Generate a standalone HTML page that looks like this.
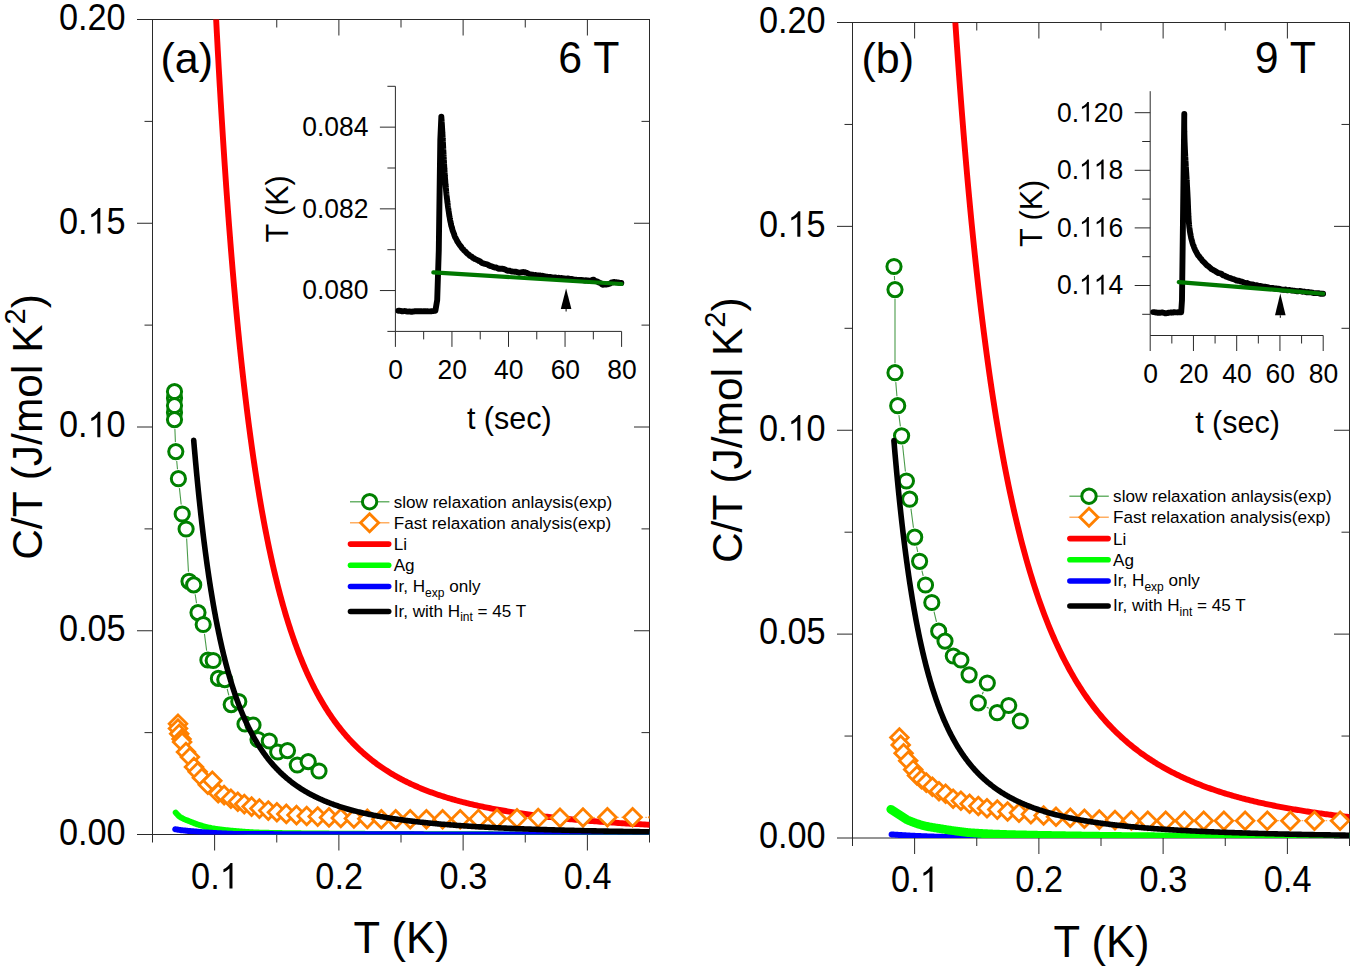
<!DOCTYPE html><html><head><meta charset="utf-8"><title>Nuclear Schottky C/T</title><style>html,body{margin:0;padding:0;background:#fff;overflow:hidden}svg{display:block}text{font-family:"Liberation Sans",sans-serif;fill:#000}</style></head><body>
<svg width="1350" height="970" viewBox="0 0 1350 970">
<rect width="1350" height="970" fill="#fff"/>
<defs>
<clipPath id="ca"><rect x="152.5" y="19.5" width="497.0" height="815.0"/></clipPath>
<clipPath id="cb"><rect x="852.5" y="22.5" width="497.0" height="815.5"/></clipPath>
</defs>
<rect x="152.5" y="19.5" width="497.0" height="815.0" fill="none" stroke="#2a2a2a" stroke-width="1"/>
<line x1="152.5" y1="834.5" x2="152.5" y2="842.5" stroke="#2a2a2a" stroke-width="1"/>
<line x1="152.5" y1="19.5" x2="152.5" y2="27.5" stroke="#2a2a2a" stroke-width="1"/>
<line x1="214.62" y1="834.5" x2="214.62" y2="850.5" stroke="#2a2a2a" stroke-width="1"/>
<line x1="214.62" y1="19.5" x2="214.62" y2="35.5" stroke="#2a2a2a" stroke-width="1"/>
<line x1="276.75" y1="834.5" x2="276.75" y2="842.5" stroke="#2a2a2a" stroke-width="1"/>
<line x1="276.75" y1="19.5" x2="276.75" y2="27.5" stroke="#2a2a2a" stroke-width="1"/>
<line x1="338.88" y1="834.5" x2="338.88" y2="850.5" stroke="#2a2a2a" stroke-width="1"/>
<line x1="338.88" y1="19.5" x2="338.88" y2="35.5" stroke="#2a2a2a" stroke-width="1"/>
<line x1="401" y1="834.5" x2="401" y2="842.5" stroke="#2a2a2a" stroke-width="1"/>
<line x1="401" y1="19.5" x2="401" y2="27.5" stroke="#2a2a2a" stroke-width="1"/>
<line x1="463.12" y1="834.5" x2="463.12" y2="850.5" stroke="#2a2a2a" stroke-width="1"/>
<line x1="463.12" y1="19.5" x2="463.12" y2="35.5" stroke="#2a2a2a" stroke-width="1"/>
<line x1="525.25" y1="834.5" x2="525.25" y2="842.5" stroke="#2a2a2a" stroke-width="1"/>
<line x1="525.25" y1="19.5" x2="525.25" y2="27.5" stroke="#2a2a2a" stroke-width="1"/>
<line x1="587.38" y1="834.5" x2="587.38" y2="850.5" stroke="#2a2a2a" stroke-width="1"/>
<line x1="587.38" y1="19.5" x2="587.38" y2="35.5" stroke="#2a2a2a" stroke-width="1"/>
<line x1="649.5" y1="834.5" x2="649.5" y2="842.5" stroke="#2a2a2a" stroke-width="1"/>
<line x1="649.5" y1="19.5" x2="649.5" y2="27.5" stroke="#2a2a2a" stroke-width="1"/>
<line x1="137" y1="834.5" x2="152.5" y2="834.5" stroke="#2a2a2a" stroke-width="1"/>
<line x1="634" y1="834.5" x2="649.5" y2="834.5" stroke="#2a2a2a" stroke-width="1"/>
<line x1="144.5" y1="732.62" x2="152.5" y2="732.62" stroke="#2a2a2a" stroke-width="1"/>
<line x1="641.5" y1="732.62" x2="649.5" y2="732.62" stroke="#2a2a2a" stroke-width="1"/>
<line x1="137" y1="630.75" x2="152.5" y2="630.75" stroke="#2a2a2a" stroke-width="1"/>
<line x1="634" y1="630.75" x2="649.5" y2="630.75" stroke="#2a2a2a" stroke-width="1"/>
<line x1="144.5" y1="528.88" x2="152.5" y2="528.88" stroke="#2a2a2a" stroke-width="1"/>
<line x1="641.5" y1="528.88" x2="649.5" y2="528.88" stroke="#2a2a2a" stroke-width="1"/>
<line x1="137" y1="427" x2="152.5" y2="427" stroke="#2a2a2a" stroke-width="1"/>
<line x1="634" y1="427" x2="649.5" y2="427" stroke="#2a2a2a" stroke-width="1"/>
<line x1="144.5" y1="325.12" x2="152.5" y2="325.12" stroke="#2a2a2a" stroke-width="1"/>
<line x1="641.5" y1="325.12" x2="649.5" y2="325.12" stroke="#2a2a2a" stroke-width="1"/>
<line x1="137" y1="223.25" x2="152.5" y2="223.25" stroke="#2a2a2a" stroke-width="1"/>
<line x1="634" y1="223.25" x2="649.5" y2="223.25" stroke="#2a2a2a" stroke-width="1"/>
<line x1="144.5" y1="121.38" x2="152.5" y2="121.38" stroke="#2a2a2a" stroke-width="1"/>
<line x1="641.5" y1="121.38" x2="649.5" y2="121.38" stroke="#2a2a2a" stroke-width="1"/>
<line x1="137" y1="19.5" x2="152.5" y2="19.5" stroke="#2a2a2a" stroke-width="1"/>
<line x1="634" y1="19.5" x2="649.5" y2="19.5" stroke="#2a2a2a" stroke-width="1"/>
<text transform="translate(125.7,844.8) scale(0.98,1.045)" font-size="35" text-anchor="end">0.00</text>
<text transform="translate(125.7,641.05) scale(0.98,1.045)" font-size="35" text-anchor="end">0.05</text>
<g transform="translate(125.7,437.3) scale(0.98,1.045)">
<text x="-68.12" y="0" font-size="35" xml:space="preserve">0. 0</text>
<path d="M763,0L583,0L583,1147C540,1106 483,1065 413,1024C342,983 279,952 223,931L223,1105C324,1152 412,1210 487,1277C562,1344 615,1407 646,1466L763,1466Z" transform="translate(-38.93,0) scale(0.01709,-0.01666)"/>
</g>
<g transform="translate(125.7,233.55) scale(0.98,1.045)">
<text x="-68.12" y="0" font-size="35" xml:space="preserve">0. 5</text>
<path d="M763,0L583,0L583,1147C540,1106 483,1065 413,1024C342,983 279,952 223,931L223,1105C324,1152 412,1210 487,1277C562,1344 615,1407 646,1466L763,1466Z" transform="translate(-38.93,0) scale(0.01709,-0.01666)"/>
</g>
<text transform="translate(125.7,29.8) scale(0.98,1.045)" font-size="35" text-anchor="end">0.20</text>
<g transform="translate(214.93,888.5) scale(0.98,1.045)">
<text x="-24.33" y="0" font-size="35" xml:space="preserve">0. </text>
<path d="M763,0L583,0L583,1147C540,1106 483,1065 413,1024C342,983 279,952 223,931L223,1105C324,1152 412,1210 487,1277C562,1344 615,1407 646,1466L763,1466Z" transform="translate(4.86,0) scale(0.01709,-0.01666)"/>
</g>
<text transform="translate(339.18,888.5) scale(0.98,1.045)" font-size="35" text-anchor="middle">0.2</text>
<text transform="translate(463.43,888.5) scale(0.98,1.045)" font-size="35" text-anchor="middle">0.3</text>
<text transform="translate(587.67,888.5) scale(0.98,1.045)" font-size="35" text-anchor="middle">0.4</text>
<text x="401.5" y="953.2" font-size="43.5" text-anchor="middle">T (K)</text>
<text transform="translate(41.5,427) rotate(-90)" font-size="42.5" text-anchor="middle">C/T (J/mol K<tspan font-size="29" dy="-16.5">2</tspan><tspan dy="16.5">)</tspan></text>
<rect x="852.5" y="22.5" width="497.0" height="815.5" fill="none" stroke="#2a2a2a" stroke-width="1"/>
<line x1="852.5" y1="838" x2="852.5" y2="846" stroke="#2a2a2a" stroke-width="1"/>
<line x1="852.5" y1="22.5" x2="852.5" y2="30.5" stroke="#2a2a2a" stroke-width="1"/>
<line x1="914.62" y1="838" x2="914.62" y2="854" stroke="#2a2a2a" stroke-width="1"/>
<line x1="914.62" y1="22.5" x2="914.62" y2="38.5" stroke="#2a2a2a" stroke-width="1"/>
<line x1="976.75" y1="838" x2="976.75" y2="846" stroke="#2a2a2a" stroke-width="1"/>
<line x1="976.75" y1="22.5" x2="976.75" y2="30.5" stroke="#2a2a2a" stroke-width="1"/>
<line x1="1038.88" y1="838" x2="1038.88" y2="854" stroke="#2a2a2a" stroke-width="1"/>
<line x1="1038.88" y1="22.5" x2="1038.88" y2="38.5" stroke="#2a2a2a" stroke-width="1"/>
<line x1="1101" y1="838" x2="1101" y2="846" stroke="#2a2a2a" stroke-width="1"/>
<line x1="1101" y1="22.5" x2="1101" y2="30.5" stroke="#2a2a2a" stroke-width="1"/>
<line x1="1163.12" y1="838" x2="1163.12" y2="854" stroke="#2a2a2a" stroke-width="1"/>
<line x1="1163.12" y1="22.5" x2="1163.12" y2="38.5" stroke="#2a2a2a" stroke-width="1"/>
<line x1="1225.25" y1="838" x2="1225.25" y2="846" stroke="#2a2a2a" stroke-width="1"/>
<line x1="1225.25" y1="22.5" x2="1225.25" y2="30.5" stroke="#2a2a2a" stroke-width="1"/>
<line x1="1287.38" y1="838" x2="1287.38" y2="854" stroke="#2a2a2a" stroke-width="1"/>
<line x1="1287.38" y1="22.5" x2="1287.38" y2="38.5" stroke="#2a2a2a" stroke-width="1"/>
<line x1="1349.5" y1="838" x2="1349.5" y2="846" stroke="#2a2a2a" stroke-width="1"/>
<line x1="1349.5" y1="22.5" x2="1349.5" y2="30.5" stroke="#2a2a2a" stroke-width="1"/>
<line x1="837" y1="838" x2="852.5" y2="838" stroke="#2a2a2a" stroke-width="1"/>
<line x1="1334" y1="838" x2="1349.5" y2="838" stroke="#2a2a2a" stroke-width="1"/>
<line x1="844.5" y1="736.06" x2="852.5" y2="736.06" stroke="#2a2a2a" stroke-width="1"/>
<line x1="1341.5" y1="736.06" x2="1349.5" y2="736.06" stroke="#2a2a2a" stroke-width="1"/>
<line x1="837" y1="634.12" x2="852.5" y2="634.12" stroke="#2a2a2a" stroke-width="1"/>
<line x1="1334" y1="634.12" x2="1349.5" y2="634.12" stroke="#2a2a2a" stroke-width="1"/>
<line x1="844.5" y1="532.19" x2="852.5" y2="532.19" stroke="#2a2a2a" stroke-width="1"/>
<line x1="1341.5" y1="532.19" x2="1349.5" y2="532.19" stroke="#2a2a2a" stroke-width="1"/>
<line x1="837" y1="430.25" x2="852.5" y2="430.25" stroke="#2a2a2a" stroke-width="1"/>
<line x1="1334" y1="430.25" x2="1349.5" y2="430.25" stroke="#2a2a2a" stroke-width="1"/>
<line x1="844.5" y1="328.31" x2="852.5" y2="328.31" stroke="#2a2a2a" stroke-width="1"/>
<line x1="1341.5" y1="328.31" x2="1349.5" y2="328.31" stroke="#2a2a2a" stroke-width="1"/>
<line x1="837" y1="226.37" x2="852.5" y2="226.37" stroke="#2a2a2a" stroke-width="1"/>
<line x1="1334" y1="226.37" x2="1349.5" y2="226.37" stroke="#2a2a2a" stroke-width="1"/>
<line x1="844.5" y1="124.44" x2="852.5" y2="124.44" stroke="#2a2a2a" stroke-width="1"/>
<line x1="1341.5" y1="124.44" x2="1349.5" y2="124.44" stroke="#2a2a2a" stroke-width="1"/>
<line x1="837" y1="22.5" x2="852.5" y2="22.5" stroke="#2a2a2a" stroke-width="1"/>
<line x1="1334" y1="22.5" x2="1349.5" y2="22.5" stroke="#2a2a2a" stroke-width="1"/>
<text transform="translate(825.7,848.3) scale(0.98,1.045)" font-size="35" text-anchor="end">0.00</text>
<text transform="translate(825.7,644.42) scale(0.98,1.045)" font-size="35" text-anchor="end">0.05</text>
<g transform="translate(825.7,440.55) scale(0.98,1.045)">
<text x="-68.12" y="0" font-size="35" xml:space="preserve">0. 0</text>
<path d="M763,0L583,0L583,1147C540,1106 483,1065 413,1024C342,983 279,952 223,931L223,1105C324,1152 412,1210 487,1277C562,1344 615,1407 646,1466L763,1466Z" transform="translate(-38.93,0) scale(0.01709,-0.01666)"/>
</g>
<g transform="translate(825.7,236.67) scale(0.98,1.045)">
<text x="-68.12" y="0" font-size="35" xml:space="preserve">0. 5</text>
<path d="M763,0L583,0L583,1147C540,1106 483,1065 413,1024C342,983 279,952 223,931L223,1105C324,1152 412,1210 487,1277C562,1344 615,1407 646,1466L763,1466Z" transform="translate(-38.93,0) scale(0.01709,-0.01666)"/>
</g>
<text transform="translate(825.7,32.8) scale(0.98,1.045)" font-size="35" text-anchor="end">0.20</text>
<g transform="translate(914.92,892) scale(0.98,1.045)">
<text x="-24.33" y="0" font-size="35" xml:space="preserve">0. </text>
<path d="M763,0L583,0L583,1147C540,1106 483,1065 413,1024C342,983 279,952 223,931L223,1105C324,1152 412,1210 487,1277C562,1344 615,1407 646,1466L763,1466Z" transform="translate(4.86,0) scale(0.01709,-0.01666)"/>
</g>
<text transform="translate(1039.17,892) scale(0.98,1.045)" font-size="35" text-anchor="middle">0.2</text>
<text transform="translate(1163.42,892) scale(0.98,1.045)" font-size="35" text-anchor="middle">0.3</text>
<text transform="translate(1287.67,892) scale(0.98,1.045)" font-size="35" text-anchor="middle">0.4</text>
<text x="1101.5" y="956.7" font-size="43.5" text-anchor="middle">T (K)</text>
<text transform="translate(741.5,430.25) rotate(-90)" font-size="42.5" text-anchor="middle">C/T (J/mol K<tspan font-size="29" dy="-16.5">2</tspan><tspan dy="16.5">)</tspan></text>
<g clip-path="url(#ca)">
<polyline points="215.9,14.79 216.38,24.01 216.86,33.13 217.34,42.15 217.82,51.06 218.31,59.88 218.79,68.59 219.28,77.21 219.77,85.73 220.27,94.15 220.76,102.48 221.26,110.71 221.76,118.85 222.26,126.9 222.76,134.86 223.26,142.73 223.77,150.51 224.27,158.21 224.78,165.81 225.3,173.34 225.81,180.77 226.32,188.12 226.84,195.39 227.36,202.58 227.88,209.69 228.41,216.71 228.93,223.66 229.46,230.53 229.99,237.32 230.52,244.04 231.05,250.68 231.59,257.24 232.13,263.73 232.67,270.15 233.21,276.5 233.75,282.77 234.3,288.98 234.85,295.11 235.39,301.17 235.95,307.17 236.5,313.1 237.06,318.96 237.62,324.76 238.18,330.49 238.74,336.15 239.3,341.75 239.87,347.29 240.44,352.77 241.01,358.19 241.58,363.54 242.16,368.83 242.74,374.07 243.32,379.24 243.9,384.36 244.48,389.42 245.07,394.42 245.66,399.37 246.25,404.26 246.84,409.09 247.44,413.88 248.04,418.6 248.64,423.28 249.24,427.9 249.84,432.47 250.45,436.98 251.06,441.45 251.67,445.87 252.29,450.24 252.9,454.55 253.52,458.82 254.14,463.04 254.77,467.22 255.39,471.34 256.02,475.42 256.65,479.46 257.28,483.45 257.92,487.39 258.56,491.29 259.2,495.15 259.84,498.96 260.48,502.73 261.13,506.46 261.78,510.14 262.43,513.79 263.09,517.39 263.75,520.95 264.41,524.47 265.07,527.95 265.73,531.4 266.4,534.8 267.07,538.17 267.74,541.5 268.42,544.79 269.1,548.04 269.78,551.26 270.46,554.44 271.14,557.58 271.83,560.69 272.52,563.77 273.22,566.81 273.91,569.82 274.61,572.79 275.31,575.73 276.02,578.63 276.72,581.51 277.43,584.35 278.14,587.16 278.86,589.93 279.58,592.68 280.3,595.39 281.02,598.08 281.74,600.73 282.47,603.36 283.2,605.95 283.94,608.52 284.67,611.05 285.41,613.56 286.16,616.04 286.9,618.5 287.65,620.92 288.4,623.32 289.15,625.69 289.91,628.03 290.67,630.35 291.43,632.64 292.2,634.91 292.97,637.15 293.74,639.36 294.51,641.55 295.29,643.72 296.07,645.86 296.85,647.98 297.64,650.07 298.43,652.14 299.22,654.19 300.01,656.21 300.81,658.21 301.61,660.19 302.42,662.14 303.22,664.08 304.03,665.99 304.85,667.88 305.66,669.75 306.48,671.6 307.31,673.43 308.13,675.23 308.96,677.02 309.79,678.79 310.63,680.54 311.47,682.26 312.31,683.97 313.15,685.66 314,687.33 314.85,688.98 315.71,690.61 316.56,692.23 317.42,693.82 318.29,695.4 319.16,696.96 320.03,698.5 320.9,700.03 321.78,701.54 322.66,703.03 323.54,704.5 324.43,705.96 325.32,707.4 326.22,708.83 327.11,710.24 328.01,711.63 328.92,713.01 329.83,714.37 330.74,715.72 331.65,717.05 332.57,718.37 333.49,719.67 334.42,720.96 335.35,722.23 336.28,723.49 337.22,724.73 338.16,725.97 339.1,727.18 340.05,728.39 341,729.58 341.95,730.75 342.91,731.92 343.87,733.07 344.83,734.2 345.8,735.33 346.77,736.44 347.75,737.54 348.73,738.62 349.71,739.7 350.7,740.76 351.69,741.81 352.69,742.85 353.69,743.88 354.69,744.89 355.69,745.9 356.7,746.89 357.72,747.87 358.73,748.85 359.76,749.81 360.78,750.75 361.81,751.69 362.84,752.62 363.88,753.54 364.92,754.45 365.97,755.34 367.02,756.23 368.07,757.11 369.13,757.97 370.19,758.83 371.25,759.68 372.32,760.52 373.39,761.35 374.47,762.17 375.55,762.98 376.64,763.78 377.73,764.57 378.82,765.35 379.92,766.13 381.02,766.9 382.13,767.65 383.24,768.4 384.35,769.14 385.47,769.87 386.6,770.6 387.72,771.31 388.86,772.02 389.99,772.72 391.13,773.41 392.28,774.1 393.43,774.77 394.58,775.44 395.74,776.1 396.9,776.76 398.07,777.41 399.24,778.04 400.41,778.68 401.59,779.3 402.78,779.92 403.97,780.53 405.16,781.14 406.36,781.73 407.56,782.32 408.77,782.91 409.98,783.49 411.2,784.06 412.42,784.62 413.64,785.18 414.87,785.73 416.11,786.28 417.35,786.82 418.59,787.35 419.84,787.88 421.1,788.4 422.36,788.92 423.62,789.43 424.89,789.93 426.16,790.43 427.44,790.93 428.72,791.41 430.01,791.9 431.3,792.37 432.6,792.84 433.9,793.31 435.21,793.77 436.52,794.23 437.84,794.68 439.16,795.12 440.49,795.57 441.82,796 443.16,796.43 444.5,796.86 445.85,797.28 447.21,797.7 448.56,798.11 449.93,798.52 451.3,798.92 452.67,799.32 454.05,799.71 455.43,800.1 456.82,800.48 458.22,800.86 459.62,801.24 461.02,801.61 462.43,801.98 463.85,802.34 465.27,802.7 466.7,803.06 468.13,803.41 469.57,803.76 471.01,804.1 472.46,804.44 473.92,804.78 475.38,805.11 476.84,805.44 478.31,805.77 479.79,806.09 481.27,806.41 482.76,806.72 484.25,807.03 485.75,807.34 487.26,807.64 488.77,807.94 490.28,808.24 491.81,808.53 493.33,808.82 494.87,809.11 496.41,809.39 497.95,809.68 499.5,809.95 501.06,810.23 502.62,810.5 504.19,810.77 505.77,811.03 507.35,811.3 508.94,811.55 510.53,811.81 512.13,812.07 513.73,812.32 515.35,812.56 516.96,812.81 518.59,813.05 520.22,813.29 521.85,813.53 523.5,813.76 525.14,814 526.8,814.22 528.46,814.45 530.13,814.68 531.8,814.9 533.48,815.12 535.17,815.33 536.86,815.55 538.56,815.76 540.27,815.97 541.98,816.18 543.7,816.38 545.42,816.58 547.16,816.78 548.89,816.98 550.64,817.18 552.39,817.37 554.15,817.56 555.92,817.75 557.69,817.94 559.47,818.12 561.25,818.31 563.04,818.49 564.84,818.67 566.65,818.84 568.46,819.02 570.28,819.19 572.11,819.36 573.94,819.53 575.78,819.7 577.63,819.86 579.49,820.03 581.35,820.19 583.22,820.35 585.09,820.51 586.97,820.66 588.87,820.82 590.76,820.97 592.67,821.12 594.58,821.27 596.5,821.42 598.42,821.57 600.36,821.71 602.3,821.85 604.25,821.99 606.2,822.13 608.17,822.27 610.14,822.41 612.12,822.54 614.1,822.68 616.1,822.81 618.1,822.94 620.11,823.07 622.12,823.2 624.15,823.32 626.18,823.45 628.22,823.57 630.26,823.69 632.32,823.81 634.38,823.93 636.45,824.05 638.53,824.17 640.62,824.28 642.71,824.4 644.82,824.51 646.93,824.62 649.04,824.73 651.17,824.84 653.31,824.95 655.45,825.06 657.6,825.16 659.76,825.27 661.92,825.37" fill="none" stroke="#ff0000" stroke-width="5.9" stroke-linecap="round" stroke-linejoin="round" />
<polyline points="175.7,812.6 176.7,813.76 177.7,814.86 178.7,815.86 179.7,816.69 180.7,817.35 181.7,817.93 182.7,818.46 183.7,818.94 184.7,819.39 185.7,819.81 186.7,820.2 187.7,820.59 188.7,820.98 189.7,821.38 190.7,821.79 191.7,822.19 192.7,822.59 193.7,822.99 194.7,823.37 195.7,823.75 196.7,824.11 197.7,824.46 198.7,824.79 199.7,825.11 200.7,825.41 201.7,825.7 202.7,825.99 203.7,826.27 204.7,826.54 205.7,826.8 206.7,827.06 207.7,827.3 208.7,827.53 209.7,827.75 210.7,827.95 211.7,828.15 212.7,828.32 213.7,828.49 214.7,828.65 215.7,828.81 216.7,828.96 217.7,829.1 218.7,829.24 219.7,829.37 220.7,829.49 221.7,829.62 222.7,829.74 223.7,829.85 224.7,829.97 225.7,830.08 226.7,830.19 227.7,830.29 228.7,830.4 229.7,830.5 230.7,830.6 231.7,830.7 232.7,830.79 233.7,830.88 234.7,830.97 235.7,831.06 236.7,831.14 237.7,831.22 238.7,831.3 239.7,831.38 240.7,831.45 241.7,831.53 242.7,831.6 243.7,831.67 244.7,831.75 245.7,831.82 246.7,831.89 247.7,831.96 248.7,832.03 249.7,832.1 250.7,832.16 251.7,832.22 252.7,832.28 253.7,832.34 254.7,832.39 255.7,832.44 256.7,832.48 257.7,832.53 258.7,832.56 259.7,832.59 260.7,832.62 261.7,832.64 262.7,832.67 263.7,832.69 264.7,832.72 265.7,832.74 266.7,832.77 267.7,832.79 268.7,832.81 269.7,832.83 270.7,832.86 271.7,832.88 272.7,832.9 273.7,832.92 274.7,832.94 275.7,832.96 276.7,832.97 277.7,832.99 278.7,833.01 279.7,833.03 280.7,833.04 281.7,833.06 282.7,833.08 283.7,833.09 284.7,833.11 285.7,833.12 286.7,833.14 287.7,833.15 288.7,833.17 289.7,833.18 290.7,833.2 291.7,833.21 292.7,833.22 293.7,833.24 294.7,833.25 295.7,833.26 296.7,833.27 297.7,833.28 298.7,833.3 299.7,833.31 300.7,833.32 301.7,833.33 302.7,833.34 303.7,833.35 304.7,833.36 305.7,833.37 306.7,833.38 307.7,833.39 308.7,833.4 309.7,833.41 310.7,833.42 311.7,833.43 312.7,833.44 313.7,833.45 314.7,833.45 315.7,833.46 316.7,833.47 317.7,833.48 318.7,833.49 319.7,833.5 320.7,833.51 321.7,833.51 322.7,833.52 323.7,833.53 324.7,833.54 325.7,833.55 326.7,833.56 327.7,833.56 328.7,833.57 329.7,833.58 330.7,833.59 331.7,833.59 332.7,833.6 333.7,833.61 334.7,833.62 335.7,833.63 336.7,833.63 337.7,833.64 338.7,833.65 339.7,833.66 340.7,833.66 341.7,833.67 342.7,833.68 343.7,833.68 344.7,833.69 345.7,833.7 346.7,833.71 347.7,833.71 348.7,833.72 349.7,833.73 350.7,833.73 351.7,833.74 352.7,833.75 353.7,833.75 354.7,833.76 355.7,833.77 356.7,833.77 357.7,833.78 358.7,833.79 359.7,833.79 360.7,833.8 361.7,833.8 362.7,833.81 363.7,833.82 364.7,833.82 365.7,833.83 366.7,833.84 367.7,833.84 368.7,833.85 369.7,833.85 370.7,833.86 371.7,833.87 372.7,833.87 373.7,833.88 374.7,833.88 375.7,833.89 376.7,833.89 377.7,833.9 378.7,833.9 379.7,833.91 380.7,833.92 381.7,833.92 382.7,833.93 383.7,833.93 384.7,833.94 385.7,833.94 386.7,833.95 387.7,833.95 388.7,833.96 389.7,833.96 390.7,833.97 391.7,833.97 392.7,833.98 393.7,833.98 394.7,833.99 395.7,833.99 396.7,834 397.7,834 398.7,834.01 399.7,834.01 400.7,834.02 401.7,834.02 402.7,834.02 403.7,834.03 404.7,834.03 405.7,834.04 406.7,834.04 407.7,834.05 408.7,834.05 409.7,834.06 410.7,834.06 411.7,834.06 412.7,834.07 413.7,834.07 414.7,834.08 415.7,834.08 416.7,834.08 417.7,834.09 418.7,834.09 419.7,834.1 420.7,834.1 421.7,834.1 422.7,834.11 423.7,834.11 424.7,834.12 425.7,834.12 426.7,834.12 427.7,834.13 428.7,834.13 429.7,834.13 430.7,834.14 431.7,834.14 432.7,834.14 433.7,834.15 434.7,834.15 435.7,834.15 436.7,834.16 437.7,834.16 438.7,834.16 439.7,834.17 440.7,834.17 441.7,834.17 442.7,834.18 443.7,834.18 444.7,834.18 445.7,834.19 446.7,834.19 447.7,834.19 448.7,834.2 449.7,834.2 450.7,834.2 451.7,834.21 452.7,834.21 453.7,834.21 454.7,834.21 455.7,834.22 456.7,834.22 457.7,834.22 458.7,834.23 459.7,834.23 460.7,834.23 461.7,834.23 462.7,834.24 463.7,834.24 464.7,834.24 465.7,834.25 466.7,834.25 467.7,834.25 468.7,834.26 469.7,834.26 470.7,834.26 471.7,834.26 472.7,834.27 473.7,834.27 474.7,834.27 475.7,834.28 476.7,834.28 477.7,834.28 478.7,834.28 479.7,834.29 480.7,834.29 481.7,834.29 482.7,834.3 483.7,834.3 484.7,834.3 485.7,834.3 486.7,834.31 487.7,834.31 488.7,834.31 489.7,834.32 490.7,834.32 491.7,834.32 492.7,834.32 493.7,834.33 494.7,834.33 495.7,834.33 496.7,834.34 497.7,834.34 498.7,834.34 499.7,834.34 500.7,834.35 501.7,834.35 502.7,834.35 503.7,834.35 504.7,834.36 505.7,834.36 506.7,834.36 507.7,834.37 508.7,834.37 509.7,834.37 510.7,834.37 511.7,834.38 512.7,834.38 513.7,834.38 514.7,834.38 515.7,834.39 516.7,834.39 517.7,834.39 518.7,834.39 519.7,834.4 520.7,834.4 521.7,834.4 522.7,834.41 523.7,834.41 524.7,834.41 525.7,834.41 526.7,834.42 527.7,834.42 528.7,834.42 529.7,834.42 530.7,834.43 531.7,834.43 532.7,834.43 533.7,834.43 534.7,834.44 535.7,834.44 536.7,834.44 537.7,834.44 538.7,834.44 539.7,834.45 540.7,834.45 541.7,834.45 542.7,834.45 543.7,834.46 544.7,834.46 545.7,834.46 546.7,834.46 547.7,834.47 548.7,834.47 549.7,834.47 550.7,834.47 551.7,834.47 552.7,834.48 553.7,834.48 554.7,834.48 555.7,834.48 556.7,834.49 557.7,834.49 558.7,834.49 559.7,834.49 560.7,834.49 561.7,834.5 562.7,834.5 563.7,834.5 564.7,834.5 565.7,834.5 566.7,834.51 567.7,834.51 568.7,834.51 569.7,834.51 570.7,834.51 571.7,834.52 572.7,834.52 573.7,834.52 574.7,834.52 575.7,834.52 576.7,834.52 577.7,834.53 578.7,834.53 579.7,834.53 580.7,834.53 581.7,834.53 582.7,834.53 583.7,834.54 584.7,834.54 585.7,834.54 586.7,834.54 587.7,834.54 588.7,834.54 589.7,834.55 590.7,834.55 591.7,834.55 592.7,834.55 593.7,834.55 594.7,834.55 595.7,834.56 596.7,834.56 597.7,834.56 598.7,834.56 599.7,834.56 600.7,834.56 601.7,834.56 602.7,834.56 603.7,834.57 604.7,834.57 605.7,834.57 606.7,834.57 607.7,834.57 608.7,834.57 609.7,834.57 610.7,834.57 611.7,834.58 612.7,834.58 613.7,834.58 614.7,834.58 615.7,834.58 616.7,834.58 617.7,834.58 618.7,834.58 619.7,834.58 620.7,834.58 621.7,834.59 622.7,834.59 623.7,834.59 624.7,834.59 625.7,834.59 626.7,834.59 627.7,834.59 628.7,834.59 629.7,834.59 630.7,834.59 631.7,834.59 632.7,834.59 633.7,834.59 634.7,834.59 635.7,834.59 636.7,834.6 637.7,834.6 638.7,834.6 639.7,834.6 640.7,834.6 641.7,834.6 642.7,834.6 643.7,834.6 644.7,834.6 645.7,834.6 646.7,834.6 647.7,834.6 648.7,834.6 649.7,834.6 650.7,834.6 651.7,834.6 652.7,834.6 653.7,834.6 654.7,834.6" fill="none" stroke="#00ff00" stroke-width="5.9" stroke-linecap="round" stroke-linejoin="round" />
<polyline points="175.2,829.2 176.2,829.38 177.2,829.56 178.2,829.73 179.2,829.89 180.2,830.03 181.2,830.15 182.2,830.27 183.2,830.39 184.2,830.5 185.2,830.6 186.2,830.7 187.2,830.8 188.2,830.89 189.2,830.99 190.2,831.08 191.2,831.17 192.2,831.25 193.2,831.34 194.2,831.43 195.2,831.52 196.2,831.61 197.2,831.7 198.2,831.79 199.2,831.87 200.2,831.96 201.2,832.05 202.2,832.13 203.2,832.22 204.2,832.3 205.2,832.37 206.2,832.45 207.2,832.52 208.2,832.59 209.2,832.65 210.2,832.71 211.2,832.77 212.2,832.83 213.2,832.89 214.2,832.95 215.2,833.01 216.2,833.06 217.2,833.12 218.2,833.18 219.2,833.24 220.2,833.29 221.2,833.35 222.2,833.4 223.2,833.46 224.2,833.51 225.2,833.56 226.2,833.61 227.2,833.65 228.2,833.69 229.2,833.74 230.2,833.78 231.2,833.81 232.2,833.85 233.2,833.88 234.2,833.9 235.2,833.93 236.2,833.95 237.2,833.97 238.2,833.98 239.2,833.99 240.2,834 241.2,834.01 242.2,834.01 243.2,834.02 244.2,834.02 245.2,834.03 246.2,834.03 247.2,834.04 248.2,834.04 249.2,834.05 250.2,834.05 251.2,834.05 252.2,834.06 253.2,834.06 254.2,834.07 255.2,834.07 256.2,834.07 257.2,834.08 258.2,834.08 259.2,834.08 260.2,834.09 261.2,834.09 262.2,834.09 263.2,834.1 264.2,834.1 265.2,834.1 266.2,834.11 267.2,834.11 268.2,834.11 269.2,834.11 270.2,834.12 271.2,834.12 272.2,834.12 273.2,834.12 274.2,834.13 275.2,834.13 276.2,834.13 277.2,834.13 278.2,834.13 279.2,834.14 280.2,834.14 281.2,834.14 282.2,834.14 283.2,834.14 284.2,834.15 285.2,834.15 286.2,834.15 287.2,834.15 288.2,834.15 289.2,834.15 290.2,834.16 291.2,834.16 292.2,834.16 293.2,834.16 294.2,834.16 295.2,834.16 296.2,834.16 297.2,834.17 298.2,834.17 299.2,834.17 300.2,834.17 301.2,834.17 302.2,834.17 303.2,834.17 304.2,834.18 305.2,834.18 306.2,834.18 307.2,834.18 308.2,834.18 309.2,834.18 310.2,834.18 311.2,834.19 312.2,834.19 313.2,834.19 314.2,834.19 315.2,834.19 316.2,834.19 317.2,834.2 318.2,834.2 319.2,834.2 320.2,834.2 321.2,834.2 322.2,834.2 323.2,834.21 324.2,834.21 325.2,834.21 326.2,834.21 327.2,834.21 328.2,834.21 329.2,834.22 330.2,834.22 331.2,834.22 332.2,834.22 333.2,834.22 334.2,834.22 335.2,834.23 336.2,834.23 337.2,834.23 338.2,834.23 339.2,834.23 340.2,834.24 341.2,834.24 342.2,834.24 343.2,834.24 344.2,834.24 345.2,834.24 346.2,834.25 347.2,834.25 348.2,834.25 349.2,834.25 350.2,834.25 351.2,834.25 352.2,834.26 353.2,834.26 354.2,834.26 355.2,834.26 356.2,834.26 357.2,834.26 358.2,834.27 359.2,834.27 360.2,834.27 361.2,834.27 362.2,834.27 363.2,834.27 364.2,834.28 365.2,834.28 366.2,834.28 367.2,834.28 368.2,834.28 369.2,834.28 370.2,834.29 371.2,834.29 372.2,834.29 373.2,834.29 374.2,834.29 375.2,834.3 376.2,834.3 377.2,834.3 378.2,834.3 379.2,834.3 380.2,834.3 381.2,834.31 382.2,834.31 383.2,834.31 384.2,834.31 385.2,834.31 386.2,834.31 387.2,834.32 388.2,834.32 389.2,834.32 390.2,834.32 391.2,834.32 392.2,834.32 393.2,834.33 394.2,834.33 395.2,834.33 396.2,834.33 397.2,834.33 398.2,834.33 399.2,834.33 400.2,834.34 401.2,834.34 402.2,834.34 403.2,834.34 404.2,834.34 405.2,834.34 406.2,834.35 407.2,834.35 408.2,834.35 409.2,834.35 410.2,834.35 411.2,834.35 412.2,834.36 413.2,834.36 414.2,834.36 415.2,834.36 416.2,834.36 417.2,834.36 418.2,834.37 419.2,834.37 420.2,834.37 421.2,834.37 422.2,834.37 423.2,834.37 424.2,834.38 425.2,834.38 426.2,834.38 427.2,834.38 428.2,834.38 429.2,834.38 430.2,834.38 431.2,834.39 432.2,834.39 433.2,834.39 434.2,834.39 435.2,834.39 436.2,834.39 437.2,834.4 438.2,834.4 439.2,834.4 440.2,834.4 441.2,834.4 442.2,834.4 443.2,834.4 444.2,834.41 445.2,834.41 446.2,834.41 447.2,834.41 448.2,834.41 449.2,834.41 450.2,834.41 451.2,834.42 452.2,834.42 453.2,834.42 454.2,834.42 455.2,834.42 456.2,834.42 457.2,834.43 458.2,834.43 459.2,834.43 460.2,834.43 461.2,834.43 462.2,834.43 463.2,834.43 464.2,834.44 465.2,834.44 466.2,834.44 467.2,834.44 468.2,834.44 469.2,834.44 470.2,834.44 471.2,834.44 472.2,834.45 473.2,834.45 474.2,834.45 475.2,834.45 476.2,834.45 477.2,834.45 478.2,834.45 479.2,834.46 480.2,834.46 481.2,834.46 482.2,834.46 483.2,834.46 484.2,834.46 485.2,834.46 486.2,834.47 487.2,834.47 488.2,834.47 489.2,834.47 490.2,834.47 491.2,834.47 492.2,834.47 493.2,834.47 494.2,834.48 495.2,834.48 496.2,834.48 497.2,834.48 498.2,834.48 499.2,834.48 500.2,834.48 501.2,834.48 502.2,834.49 503.2,834.49 504.2,834.49 505.2,834.49 506.2,834.49 507.2,834.49 508.2,834.49 509.2,834.49 510.2,834.5 511.2,834.5 512.2,834.5 513.2,834.5 514.2,834.5 515.2,834.5 516.2,834.5 517.2,834.5 518.2,834.51 519.2,834.51 520.2,834.51 521.2,834.51 522.2,834.51 523.2,834.51 524.2,834.51 525.2,834.51 526.2,834.51 527.2,834.52 528.2,834.52 529.2,834.52 530.2,834.52 531.2,834.52 532.2,834.52 533.2,834.52 534.2,834.52 535.2,834.52 536.2,834.53 537.2,834.53 538.2,834.53 539.2,834.53 540.2,834.53 541.2,834.53 542.2,834.53 543.2,834.53 544.2,834.53 545.2,834.53 546.2,834.54 547.2,834.54 548.2,834.54 549.2,834.54 550.2,834.54 551.2,834.54 552.2,834.54 553.2,834.54 554.2,834.54 555.2,834.54 556.2,834.55 557.2,834.55 558.2,834.55 559.2,834.55 560.2,834.55 561.2,834.55 562.2,834.55 563.2,834.55 564.2,834.55 565.2,834.55 566.2,834.55 567.2,834.55 568.2,834.56 569.2,834.56 570.2,834.56 571.2,834.56 572.2,834.56 573.2,834.56 574.2,834.56 575.2,834.56 576.2,834.56 577.2,834.56 578.2,834.56 579.2,834.56 580.2,834.57 581.2,834.57 582.2,834.57 583.2,834.57 584.2,834.57 585.2,834.57 586.2,834.57 587.2,834.57 588.2,834.57 589.2,834.57 590.2,834.57 591.2,834.57 592.2,834.57 593.2,834.57 594.2,834.58 595.2,834.58 596.2,834.58 597.2,834.58 598.2,834.58 599.2,834.58 600.2,834.58 601.2,834.58 602.2,834.58 603.2,834.58 604.2,834.58 605.2,834.58 606.2,834.58 607.2,834.58 608.2,834.58 609.2,834.58 610.2,834.58 611.2,834.59 612.2,834.59 613.2,834.59 614.2,834.59 615.2,834.59 616.2,834.59 617.2,834.59 618.2,834.59 619.2,834.59 620.2,834.59 621.2,834.59 622.2,834.59 623.2,834.59 624.2,834.59 625.2,834.59 626.2,834.59 627.2,834.59 628.2,834.59 629.2,834.59 630.2,834.59 631.2,834.59 632.2,834.59 633.2,834.59 634.2,834.6 635.2,834.6 636.2,834.6 637.2,834.6 638.2,834.6 639.2,834.6 640.2,834.6 641.2,834.6 642.2,834.6 643.2,834.6 644.2,834.6 645.2,834.6 646.2,834.6 647.2,834.6 648.2,834.6 649.2,834.6 650.2,834.6 651.2,834.6 652.2,834.6 653.2,834.6 654.2,834.6" fill="none" stroke="#0000ff" stroke-width="6.0" stroke-linecap="round" stroke-linejoin="round" />
<polyline points="178,723.7 178,728.5 179.2,733.8 181.5,739 182.1,742 186,752 189.9,757 194,767 197.7,771.8 201.9,777.7 207.8,784.7 212.3,780.7 218.2,793.3 224.1,795.1 230.9,798.8 237.8,801.7 244.3,804.1 251.6,806.6 259.4,808.6 268.3,810.6 276.9,812.3 286.3,813.9 296.5,815.1 306.7,816 317.7,816.6 329,817.4 340.8,818 353.9,818.5 367.3,818.85 381.3,819.2 395.7,819.2 410.2,819.2 426.4,819.2 442.6,819.2 460.2,819.2 478.5,818.92 497,818.64 517,818.37 538.2,818.09 560,817.8 583,817.56 607.4,817.3 632.6,817.33 658.5,817.36" fill="none" stroke="#ff8000" stroke-width="1" stroke-dasharray="1.5,2.5" opacity="0.8"/>
<g fill="#fff" stroke="#ff8000" stroke-width="2.8">
<path d="M178,714.9L186.8,723.7L178,732.5L169.2,723.7Z"/>
<path d="M178,719.7L186.8,728.5L178,737.3L169.2,728.5Z"/>
<path d="M179.2,725L188,733.8L179.2,742.6L170.4,733.8Z"/>
<path d="M181.5,730.2L190.3,739L181.5,747.8L172.7,739Z"/>
<path d="M182.1,733.2L190.9,742L182.1,750.8L173.3,742Z"/>
<path d="M186,743.2L194.8,752L186,760.8L177.2,752Z"/>
<path d="M189.9,748.2L198.7,757L189.9,765.8L181.1,757Z"/>
<path d="M194,758.2L202.8,767L194,775.8L185.2,767Z"/>
<path d="M197.7,763L206.5,771.8L197.7,780.6L188.9,771.8Z"/>
<path d="M201.9,768.9L210.7,777.7L201.9,786.5L193.1,777.7Z"/>
<path d="M207.8,775.9L216.6,784.7L207.8,793.5L199,784.7Z"/>
<path d="M212.3,771.9L221.1,780.7L212.3,789.5L203.5,780.7Z"/>
<path d="M218.2,784.5L227,793.3L218.2,802.1L209.4,793.3Z"/>
<path d="M224.1,786.3L232.9,795.1L224.1,803.9L215.3,795.1Z"/>
<path d="M230.9,790L239.7,798.8L230.9,807.6L222.1,798.8Z"/>
<path d="M237.8,792.9L246.6,801.7L237.8,810.5L229,801.7Z"/>
<path d="M244.3,795.3L253.1,804.1L244.3,812.9L235.5,804.1Z"/>
<path d="M251.6,797.8L260.4,806.6L251.6,815.4L242.8,806.6Z"/>
<path d="M259.4,799.8L268.2,808.6L259.4,817.4L250.6,808.6Z"/>
<path d="M268.3,801.8L277.1,810.6L268.3,819.4L259.5,810.6Z"/>
<path d="M276.9,803.5L285.7,812.3L276.9,821.1L268.1,812.3Z"/>
<path d="M286.3,805.1L295.1,813.9L286.3,822.7L277.5,813.9Z"/>
<path d="M296.5,806.3L305.3,815.1L296.5,823.9L287.7,815.1Z"/>
<path d="M306.7,807.2L315.5,816L306.7,824.8L297.9,816Z"/>
<path d="M317.7,807.8L326.5,816.6L317.7,825.4L308.9,816.6Z"/>
<path d="M329,808.6L337.8,817.4L329,826.2L320.2,817.4Z"/>
<path d="M340.8,809.2L349.6,818L340.8,826.8L332,818Z"/>
<path d="M353.9,809.7L362.7,818.5L353.9,827.3L345.1,818.5Z"/>
<path d="M367.3,810.05L376.1,818.85L367.3,827.65L358.5,818.85Z"/>
<path d="M381.3,810.4L390.1,819.2L381.3,828L372.5,819.2Z"/>
<path d="M395.7,810.4L404.5,819.2L395.7,828L386.9,819.2Z"/>
<path d="M410.2,810.4L419,819.2L410.2,828L401.4,819.2Z"/>
<path d="M426.4,810.4L435.2,819.2L426.4,828L417.6,819.2Z"/>
<path d="M442.6,810.4L451.4,819.2L442.6,828L433.8,819.2Z"/>
<path d="M460.2,810.4L469,819.2L460.2,828L451.4,819.2Z"/>
<path d="M478.5,810.12L487.3,818.92L478.5,827.72L469.7,818.92Z"/>
<path d="M497,809.85L505.8,818.64L497,827.44L488.2,818.64Z"/>
<path d="M517,809.57L525.8,818.37L517,827.17L508.2,818.37Z"/>
<path d="M538.2,809.29L547,818.09L538.2,826.89L529.4,818.09Z"/>
<path d="M560,809L568.8,817.8L560,826.6L551.2,817.8Z"/>
<path d="M583,808.76L591.8,817.56L583,826.36L574.2,817.56Z"/>
<path d="M607.4,808.5L616.2,817.3L607.4,826.1L598.6,817.3Z"/>
<path d="M632.6,808.53L641.4,817.33L632.6,826.13L623.8,817.33Z"/>
<path d="M658.5,808.56L667.3,817.36L658.5,826.16L649.7,817.36Z"/>
</g>
<path d="M174.89,429.09L175.41,442.11M176.71,461.06L177.49,469.24M179.42,488.15L181.18,504.55M186.63,538.49L188.47,571.81M195.16,594.29L196.54,603.21M204.45,633.92L206.65,650.58M227.16,688.8L228.84,695.4M241.32,710.66L242.48,714.84" fill="none" stroke="#2a8a2a" stroke-width="1.1" opacity="0.85"/>
<g fill="#fff" stroke="#008000" stroke-width="3">
<circle cx="174.5" cy="398.2" r="7.1"/>
<circle cx="174.5" cy="412.4" r="7.1"/>
<circle cx="174.5" cy="391.6" r="7.1"/>
<circle cx="174.5" cy="405.6" r="7.1"/>
<circle cx="174.5" cy="419.6" r="7.1"/>
<circle cx="175.8" cy="451.6" r="7.1"/>
<circle cx="178.4" cy="478.7" r="7.1"/>
<circle cx="182.2" cy="514" r="7.1"/>
<circle cx="186.1" cy="529" r="7.1"/>
<circle cx="189" cy="581.3" r="7.1"/>
<circle cx="193.7" cy="584.9" r="7.1"/>
<circle cx="198" cy="612.6" r="7.1"/>
<circle cx="203.2" cy="624.5" r="7.1"/>
<circle cx="207.9" cy="660" r="7.1"/>
<circle cx="213.2" cy="660.5" r="7.1"/>
<circle cx="218.4" cy="678.4" r="7.1"/>
<circle cx="224.8" cy="679.6" r="7.1"/>
<circle cx="231.2" cy="704.6" r="7.1"/>
<circle cx="238.8" cy="701.5" r="7.1"/>
<circle cx="245" cy="724" r="7.1"/>
<circle cx="253" cy="725" r="7.1"/>
<circle cx="258" cy="739.5" r="7.1"/>
<circle cx="269.3" cy="741" r="7.1"/>
<circle cx="277.7" cy="752" r="7.1"/>
<circle cx="287.5" cy="750.6" r="7.1"/>
<circle cx="297.3" cy="765" r="7.1"/>
<circle cx="308.2" cy="761.6" r="7.1"/>
<circle cx="319" cy="771" r="7.1"/>
</g>
<polyline points="193.7,440.31 194.05,444.52 194.41,448.68 194.77,452.79 195.13,456.85 195.49,460.88 195.85,464.85 196.21,468.79 196.57,472.68 196.94,476.52 197.3,480.33 197.67,484.09 198.04,487.81 198.41,491.49 198.78,495.13 199.15,498.73 199.53,502.29 199.9,505.82 200.28,509.3 200.65,512.74 201.03,516.15 201.41,519.52 201.79,522.85 202.18,526.15 202.56,529.41 202.94,532.63 203.33,535.82 203.72,538.97 204.11,542.09 204.5,545.18 204.89,548.23 205.28,551.25 205.68,554.23 206.07,557.19 206.47,560.11 206.87,562.99 207.27,565.85 207.67,568.68 208.07,571.47 208.48,574.24 208.88,576.97 209.29,579.68 209.7,582.35 210.11,585 210.52,587.62 210.93,590.21 211.35,592.77 211.76,595.3 212.18,597.81 212.6,600.29 213.02,602.74 213.44,605.17 213.86,607.57 214.28,609.94 214.71,612.29 215.14,614.61 215.57,616.91 216,619.18 216.43,621.43 216.86,623.65 217.29,625.85 217.73,628.03 218.17,630.18 218.61,632.31 219.05,634.42 219.49,636.5 219.93,638.57 220.38,640.61 220.82,642.62 221.27,644.62 221.72,646.59 222.17,648.55 222.62,650.48 223.08,652.39 223.53,654.28 223.99,656.15 224.45,658 224.91,659.84 225.37,661.65 225.83,663.44 226.3,665.21 226.77,666.97 227.24,668.7 227.71,670.42 228.18,672.12 228.65,673.8 229.12,675.46 229.6,677.1 230.08,678.73 230.56,680.34 231.04,681.93 231.52,683.51 232.01,685.07 232.49,686.61 232.98,688.14 233.47,689.65 233.96,691.14 234.46,692.62 234.95,694.08 235.45,695.53 235.95,696.96 236.45,698.38 236.95,699.78 237.45,701.16 237.96,702.54 238.46,703.89 238.97,705.24 239.48,706.56 239.99,707.88 240.51,709.18 241.02,710.47 241.54,711.74 242.06,713 242.58,714.25 243.1,715.48 243.63,716.7 244.15,717.91 244.68,719.1 245.21,720.29 245.74,721.46 246.28,722.61 246.81,723.76 247.35,724.89 247.89,726.01 248.43,727.12 248.97,728.22 249.51,729.31 250.06,730.38 250.61,731.45 251.16,732.5 251.71,733.54 252.27,734.57 252.82,735.59 253.38,736.6 253.94,737.6 254.5,738.59 255.06,739.56 255.63,740.53 256.2,741.49 256.77,742.44 257.34,743.37 257.91,744.3 258.49,745.22 259.06,746.13 259.64,747.03 260.22,747.92 260.81,748.8 261.39,749.67 261.98,750.53 262.57,751.39 263.16,752.23 263.75,753.06 264.35,753.89 264.95,754.71 265.55,755.52 266.15,756.32 266.75,757.11 267.36,757.9 267.96,758.68 268.57,759.44 269.19,760.2 269.8,760.96 270.42,761.7 271.03,762.44 271.65,763.17 272.28,763.89 272.9,764.61 273.53,765.31 274.16,766.01 274.79,766.71 275.42,767.39 276.06,768.07 276.69,768.74 277.33,769.4 277.98,770.06 278.62,770.71 279.27,771.36 279.92,771.99 280.57,772.63 281.22,773.25 281.87,773.87 282.53,774.48 283.19,775.08 283.85,775.68 284.52,776.28 285.18,776.86 285.85,777.44 286.52,778.02 287.2,778.59 287.87,779.15 288.55,779.71 289.23,780.26 289.92,780.8 290.6,781.34 291.29,781.88 291.98,782.41 292.67,782.93 293.36,783.45 294.06,783.96 294.76,784.47 295.46,784.97 296.17,785.47 296.87,785.96 297.58,786.45 298.29,786.93 299.01,787.41 299.72,787.88 300.44,788.35 301.16,788.81 301.89,789.27 302.61,789.73 303.34,790.17 304.07,790.62 304.81,791.06 305.55,791.49 306.28,791.92 307.03,792.35 307.77,792.77 308.52,793.19 309.26,793.6 310.02,794.01 310.77,794.42 311.53,794.82 312.29,795.22 313.05,795.61 313.81,796 314.58,796.38 315.35,796.77 316.12,797.14 316.9,797.52 317.68,797.89 318.46,798.25 319.24,798.61 320.03,798.97 320.81,799.33 321.6,799.68 322.4,800.03 323.2,800.37 324,800.71 324.8,801.05 325.6,801.38 326.41,801.71 327.22,802.04 328.03,802.36 328.85,802.68 329.67,803 330.49,803.31 331.31,803.63 332.14,803.93 332.97,804.24 333.81,804.54 334.64,804.84 335.48,805.13 336.32,805.43 337.17,805.72 338.01,806 338.86,806.29 339.72,806.57 340.57,806.84 341.43,807.12 342.29,807.39 343.16,807.66 344.03,807.93 344.9,808.19 345.77,808.45 346.65,808.71 347.53,808.97 348.41,809.22 349.3,809.48 350.19,809.72 351.08,809.97 351.97,810.21 352.87,810.46 353.77,810.69 354.68,810.93 355.59,811.16 356.5,811.4 357.41,811.63 358.33,811.85 359.25,812.08 360.17,812.3 361.1,812.52 362.03,812.74 362.96,812.96 363.9,813.17 364.83,813.38 365.78,813.59 366.72,813.8 367.67,814 368.62,814.21 369.58,814.41 370.54,814.61 371.5,814.8 372.46,815 373.43,815.19 374.41,815.38 375.38,815.57 376.36,815.76 377.34,815.95 378.33,816.13 379.32,816.31 380.31,816.49 381.3,816.67 382.3,816.85 383.3,817.02 384.31,817.2 385.32,817.37 386.33,817.54 387.35,817.71 388.37,817.87 389.39,818.04 390.42,818.2 391.45,818.36 392.48,818.52 393.52,818.68 394.56,818.84 395.6,818.99 396.65,819.14 397.7,819.3 398.76,819.45 399.82,819.6 400.88,819.74 401.95,819.89 403.02,820.03 404.09,820.18 405.17,820.32 406.25,820.46 407.33,820.6 408.42,820.74 409.51,820.87 410.61,821.01 411.71,821.14 412.81,821.27 413.92,821.4 415.03,821.53 416.15,821.66 417.26,821.79 418.39,821.91 419.51,822.04 420.64,822.16 421.78,822.28 422.91,822.4 424.06,822.52 425.2,822.64 426.35,822.76 427.51,822.88 428.66,822.99 429.82,823.1 430.99,823.22 432.16,823.33 433.33,823.44 434.51,823.55 435.69,823.66 436.88,823.76 438.07,823.87 439.26,823.97 440.46,824.08 441.66,824.18 442.87,824.28 444.08,824.38 445.29,824.48 446.51,824.58 447.73,824.68 448.96,824.78 450.19,824.88 451.43,824.97 452.67,825.06 453.91,825.16 455.16,825.25 456.41,825.34 457.67,825.43 458.93,825.52 460.2,825.61 461.47,825.7 462.74,825.79 464.02,825.87 465.3,825.96 466.59,826.04 467.88,826.12 469.18,826.21 470.48,826.29 471.78,826.37 473.09,826.45 474.41,826.53 475.73,826.61 477.05,826.69 478.38,826.76 479.71,826.84 481.05,826.92 482.39,826.99 483.73,827.07 485.08,827.14 486.44,827.21 487.8,827.28 489.16,827.36 490.53,827.43 491.91,827.5 493.29,827.57 494.67,827.63 496.06,827.7 497.45,827.77 498.85,827.84 500.25,827.9 501.66,827.97 503.07,828.03 504.49,828.1 505.91,828.16 507.34,828.22 508.77,828.28 510.21,828.35 511.65,828.41 513.09,828.47 514.54,828.53 516,828.59 517.46,828.64 518.93,828.7 520.4,828.76 521.88,828.82 523.36,828.87 524.85,828.93 526.34,828.98 527.83,829.04 529.34,829.09 530.84,829.15 532.36,829.2 533.87,829.25 535.4,829.3 536.92,829.36 538.46,829.41 540,829.46 541.54,829.51 543.09,829.56 544.64,829.6 546.2,829.65 547.77,829.7 549.34,829.75 550.92,829.8 552.5,829.84 554.08,829.89 555.68,829.93 557.27,829.98 558.88,830.02 560.49,830.07 562.1,830.11 563.72,830.16 565.34,830.2 566.98,830.24 568.61,830.28 570.25,830.33 571.9,830.37 573.56,830.41 575.21,830.45 576.88,830.49 578.55,830.53 580.23,830.57 581.91,830.61 583.6,830.65 585.29,830.69 586.99,830.72 588.69,830.76 590.4,830.8 592.12,830.83 593.84,830.87 595.57,830.91 597.31,830.94 599.05,830.98 600.8,831.01 602.55,831.05 604.31,831.08 606.07,831.12 607.84,831.15 609.62,831.18 611.4,831.22 613.19,831.25 614.99,831.28 616.79,831.31 618.59,831.34 620.41,831.38 622.23,831.41 624.05,831.44 625.89,831.47 627.73,831.5 629.57,831.53 631.42,831.56 633.28,831.59 635.14,831.62 637.02,831.65 638.89,831.67 640.78,831.7 642.67,831.73 644.56,831.76 646.46,831.79 648.37,831.81 650.29,831.84 652.21,831.87 654.14,831.89 656.08,831.92 658.02,831.94 659.97,831.97 661.92,831.99" fill="none" stroke="#000" stroke-width="5.6" stroke-linecap="round" stroke-linejoin="round" />
</g>
<g clip-path="url(#cb)">
<polyline points="953.98,2.11 955.34,22.68 956.71,42.58 958.07,61.84 959.44,80.48 960.8,98.53 962.17,116 963.53,132.94 964.89,149.34 966.26,165.25 967.62,180.66 968.99,195.61 970.35,210.11 971.72,224.18 973.08,237.83 974.44,251.07 975.81,263.93 977.17,276.42 978.54,288.55 979.9,300.33 981.27,311.78 982.63,322.9 984,333.71 985.36,344.22 986.72,354.45 988.09,364.39 989.45,374.06 990.82,383.47 992.18,392.63 993.55,401.54 994.91,410.21 996.27,418.66 997.64,426.89 999,434.9 1000.37,442.71 1001.73,450.31 1003.1,457.73 1004.46,464.95 1005.82,471.99 1007.19,478.86 1008.55,485.55 1009.92,492.08 1011.28,498.45 1012.65,504.67 1014.01,510.73 1015.38,516.65 1016.74,522.43 1018.1,528.06 1019.47,533.57 1020.83,538.94 1022.2,544.19 1023.56,549.32 1024.93,554.33 1026.29,559.22 1027.65,564 1029.02,568.68 1030.38,573.24 1031.75,577.71 1033.11,582.07 1034.48,586.34 1035.84,590.51 1037.21,594.59 1038.57,598.59 1039.93,602.49 1041.3,606.31 1042.66,610.05 1044.03,613.71 1045.39,617.29 1046.76,620.79 1048.12,624.23 1049.48,627.58 1050.85,630.87 1052.21,634.09 1053.58,637.25 1054.94,640.34 1056.31,643.37 1057.67,646.33 1059.04,649.24 1060.4,652.08 1061.76,654.87 1063.13,657.61 1064.49,660.29 1065.86,662.92 1067.22,665.49 1068.59,668.02 1069.95,670.49 1071.31,672.92 1072.68,675.3 1074.04,677.64 1075.41,679.93 1076.77,682.18 1078.14,684.39 1079.5,686.55 1080.87,688.67 1082.23,690.76 1083.59,692.8 1084.96,694.81 1086.32,696.78 1087.69,698.72 1089.05,700.62 1090.42,702.48 1091.78,704.32 1093.14,706.12 1094.51,707.88 1095.87,709.62 1097.24,711.32 1098.6,713 1099.97,714.64 1101.33,716.26 1102.7,717.85 1104.06,719.41 1105.42,720.94 1106.79,722.45 1108.15,723.93 1109.52,725.39 1110.88,726.82 1112.25,728.23 1113.61,729.61 1114.97,730.97 1116.34,732.31 1117.7,733.63 1119.07,734.92 1120.43,736.2 1121.8,737.45 1123.16,738.68 1124.52,739.89 1125.89,741.08 1127.25,742.26 1128.62,743.41 1129.98,744.55 1131.35,745.66 1132.71,746.76 1134.08,747.85 1135.44,748.91 1136.8,749.96 1138.17,750.99 1139.53,752.01 1140.9,753.01 1142.26,753.99 1143.63,754.96 1144.99,755.92 1146.35,756.86 1147.72,757.78 1149.08,758.69 1150.45,759.59 1151.81,760.48 1153.18,761.35 1154.54,762.21 1155.91,763.05 1157.27,763.89 1158.63,764.71 1160,765.51 1161.36,766.31 1162.73,767.1 1164.09,767.87 1165.46,768.63 1166.82,769.38 1168.18,770.13 1169.55,770.86 1170.91,771.57 1172.28,772.28 1173.64,772.98 1175.01,773.67 1176.37,774.35 1177.74,775.02 1179.1,775.68 1180.46,776.34 1181.83,776.98 1183.19,777.61 1184.56,778.24 1185.92,778.85 1187.29,779.46 1188.65,780.06 1190.01,780.65 1191.38,781.23 1192.74,781.81 1194.11,782.38 1195.47,782.94 1196.84,783.49 1198.2,784.04 1199.57,784.57 1200.93,785.1 1202.29,785.63 1203.66,786.15 1205.02,786.66 1206.39,787.16 1207.75,787.66 1209.12,788.15 1210.48,788.63 1211.84,789.11 1213.21,789.58 1214.57,790.05 1215.94,790.51 1217.3,790.96 1218.67,791.41 1220.03,791.85 1221.4,792.29 1222.76,792.72 1224.12,793.14 1225.49,793.57 1226.85,793.98 1228.22,794.39 1229.58,794.8 1230.95,795.2 1232.31,795.59 1233.67,795.98 1235.04,796.37 1236.4,796.75 1237.77,797.12 1239.13,797.5 1240.5,797.86 1241.86,798.23 1243.22,798.58 1244.59,798.94 1245.95,799.29 1247.32,799.63 1248.68,799.98 1250.05,800.31 1251.41,800.65 1252.78,800.98 1254.14,801.3 1255.5,801.62 1256.87,801.94 1258.23,802.26 1259.6,802.57 1260.96,802.88 1262.33,803.18 1263.69,803.48 1265.05,803.78 1266.42,804.07 1267.78,804.36 1269.15,804.65 1270.51,804.93 1271.88,805.21 1273.24,805.49 1274.61,805.76 1275.97,806.03 1277.33,806.3 1278.7,806.57 1280.06,806.83 1281.43,807.09 1282.79,807.34 1284.16,807.6 1285.52,807.85 1286.88,808.09 1288.25,808.34 1289.61,808.58 1290.98,808.82 1292.34,809.06 1293.71,809.29 1295.07,809.53 1296.44,809.76 1297.8,809.98 1299.16,810.21 1300.53,810.43 1301.89,810.65 1303.26,810.87 1304.62,811.08 1305.99,811.3 1307.35,811.51 1308.71,811.72 1310.08,811.92 1311.44,812.13 1312.81,812.33 1314.17,812.53 1315.54,812.73 1316.9,812.92 1318.27,813.12 1319.63,813.31 1320.99,813.5 1322.36,813.69 1323.72,813.87 1325.09,814.06 1326.45,814.24 1327.82,814.42 1329.18,814.6 1330.54,814.78 1331.91,814.95 1333.27,815.12 1334.64,815.3 1336,815.47 1337.37,815.63 1338.73,815.8 1340.1,815.97 1341.46,816.13 1342.82,816.29 1344.19,816.45 1345.55,816.61 1346.92,816.77 1348.28,816.92 1349.65,817.08 1351.01,817.23 1352.37,817.38 1353.74,817.53 1355.1,817.68 1356.47,817.82 1357.83,817.97 1359.2,818.11 1360.56,818.25 1361.92,818.4" fill="none" stroke="#ff0000" stroke-width="5.9" stroke-linecap="round" stroke-linejoin="round" />
<polyline points="891.6,834.4 892.6,834.47 893.6,834.55 894.6,834.62 895.6,834.69 896.6,834.77 897.6,834.84 898.6,834.91 899.6,834.98 900.6,835.04 901.6,835.11 902.6,835.17 903.6,835.24 904.6,835.3 905.6,835.36 906.6,835.42 907.6,835.47 908.6,835.53 909.6,835.58 910.6,835.63 911.6,835.68 912.6,835.73 913.6,835.78 914.6,835.83 915.6,835.88 916.6,835.93 917.6,835.97 918.6,836.02 919.6,836.07 920.6,836.11 921.6,836.16 922.6,836.2 923.6,836.24 924.6,836.28 925.6,836.33 926.6,836.37 927.6,836.41 928.6,836.44 929.6,836.48 930.6,836.52 931.6,836.55 932.6,836.59 933.6,836.62 934.6,836.65 935.6,836.68 936.6,836.71 937.6,836.74 938.6,836.77 939.6,836.79 940.6,836.81 941.6,836.84 942.6,836.86 943.6,836.88 944.6,836.91 945.6,836.93 946.6,836.95 947.6,836.98 948.6,837 949.6,837.02 950.6,837.04 951.6,837.06 952.6,837.08 953.6,837.1 954.6,837.12 955.6,837.14 956.6,837.15 957.6,837.17 958.6,837.19 959.6,837.2 960.6,837.22 961.6,837.23 962.6,837.24 963.6,837.25 964.6,837.26 965.6,837.27 966.6,837.28 967.6,837.29 968.6,837.29 969.6,837.3 970.6,837.3 971.6,837.31 972.6,837.31 973.6,837.31 974.6,837.31 975.6,837.32 976.6,837.32 977.6,837.32 978.6,837.33 979.6,837.33 980.6,837.33 981.6,837.34 982.6,837.34 983.6,837.34 984.6,837.35 985.6,837.35 986.6,837.35 987.6,837.35 988.6,837.36 989.6,837.36 990.6,837.36 991.6,837.37 992.6,837.37 993.6,837.37 994.6,837.37 995.6,837.38 996.6,837.38 997.6,837.38 998.6,837.39 999.6,837.39 1000.6,837.39 1001.6,837.39 1002.6,837.4 1003.6,837.4 1004.6,837.4 1005.6,837.41 1006.6,837.41 1007.6,837.41 1008.6,837.41 1009.6,837.42 1010.6,837.42 1011.6,837.42 1012.6,837.42 1013.6,837.43 1014.6,837.43 1015.6,837.43 1016.6,837.43 1017.6,837.44 1018.6,837.44 1019.6,837.44 1020.6,837.45 1021.6,837.45 1022.6,837.45 1023.6,837.45 1024.6,837.46 1025.6,837.46 1026.6,837.46 1027.6,837.46 1028.6,837.47 1029.6,837.47 1030.6,837.47 1031.6,837.47 1032.6,837.48 1033.6,837.48 1034.6,837.48 1035.6,837.48 1036.6,837.48 1037.6,837.49 1038.6,837.49 1039.6,837.49 1040.6,837.49 1041.6,837.5 1042.6,837.5 1043.6,837.5 1044.6,837.5 1045.6,837.51 1046.6,837.51 1047.6,837.51 1048.6,837.51 1049.6,837.51 1050.6,837.52 1051.6,837.52 1052.6,837.52 1053.6,837.52 1054.6,837.53 1055.6,837.53 1056.6,837.53 1057.6,837.53 1058.6,837.53 1059.6,837.54 1060.6,837.54 1061.6,837.54 1062.6,837.54 1063.6,837.55 1064.6,837.55 1065.6,837.55 1066.6,837.55 1067.6,837.55 1068.6,837.56 1069.6,837.56 1070.6,837.56 1071.6,837.56 1072.6,837.56 1073.6,837.57 1074.6,837.57 1075.6,837.57 1076.6,837.57 1077.6,837.57 1078.6,837.58 1079.6,837.58 1080.6,837.58 1081.6,837.58 1082.6,837.58 1083.6,837.58 1084.6,837.59 1085.6,837.59 1086.6,837.59 1087.6,837.59 1088.6,837.59 1089.6,837.6 1090.6,837.6 1091.6,837.6 1092.6,837.6 1093.6,837.6 1094.6,837.6 1095.6,837.61 1096.6,837.61 1097.6,837.61 1098.6,837.61 1099.6,837.61 1100.6,837.62 1101.6,837.62 1102.6,837.62 1103.6,837.62 1104.6,837.62 1105.6,837.62 1106.6,837.63 1107.6,837.63 1108.6,837.63 1109.6,837.63 1110.6,837.63 1111.6,837.63 1112.6,837.64 1113.6,837.64 1114.6,837.64 1115.6,837.64 1116.6,837.64 1117.6,837.64 1118.6,837.64 1119.6,837.65 1120.6,837.65 1121.6,837.65 1122.6,837.65 1123.6,837.65 1124.6,837.65 1125.6,837.66 1126.6,837.66 1127.6,837.66 1128.6,837.66 1129.6,837.66 1130.6,837.66 1131.6,837.66 1132.6,837.67 1133.6,837.67 1134.6,837.67 1135.6,837.67 1136.6,837.67 1137.6,837.67 1138.6,837.67 1139.6,837.67 1140.6,837.68 1141.6,837.68 1142.6,837.68 1143.6,837.68 1144.6,837.68 1145.6,837.68 1146.6,837.68 1147.6,837.69 1148.6,837.69 1149.6,837.69 1150.6,837.69 1151.6,837.69 1152.6,837.69 1153.6,837.69 1154.6,837.69 1155.6,837.7 1156.6,837.7 1157.6,837.7 1158.6,837.7 1159.6,837.7 1160.6,837.7 1161.6,837.7 1162.6,837.7 1163.6,837.7 1164.6,837.71 1165.6,837.71 1166.6,837.71 1167.6,837.71 1168.6,837.71 1169.6,837.71 1170.6,837.71 1171.6,837.71 1172.6,837.71 1173.6,837.72 1174.6,837.72 1175.6,837.72 1176.6,837.72 1177.6,837.72 1178.6,837.72 1179.6,837.72 1180.6,837.72 1181.6,837.72 1182.6,837.72 1183.6,837.73 1184.6,837.73 1185.6,837.73 1186.6,837.73 1187.6,837.73 1188.6,837.73 1189.6,837.73 1190.6,837.73 1191.6,837.73 1192.6,837.73 1193.6,837.74 1194.6,837.74 1195.6,837.74 1196.6,837.74 1197.6,837.74 1198.6,837.74 1199.6,837.74 1200.6,837.74 1201.6,837.74 1202.6,837.74 1203.6,837.74 1204.6,837.74 1205.6,837.75 1206.6,837.75 1207.6,837.75 1208.6,837.75 1209.6,837.75 1210.6,837.75 1211.6,837.75 1212.6,837.75 1213.6,837.75 1214.6,837.75 1215.6,837.75 1216.6,837.75 1217.6,837.75 1218.6,837.76 1219.6,837.76 1220.6,837.76 1221.6,837.76 1222.6,837.76 1223.6,837.76 1224.6,837.76 1225.6,837.76 1226.6,837.76 1227.6,837.76 1228.6,837.76 1229.6,837.76 1230.6,837.76 1231.6,837.76 1232.6,837.77 1233.6,837.77 1234.6,837.77 1235.6,837.77 1236.6,837.77 1237.6,837.77 1238.6,837.77 1239.6,837.77 1240.6,837.77 1241.6,837.77 1242.6,837.77 1243.6,837.77 1244.6,837.77 1245.6,837.77 1246.6,837.77 1247.6,837.77 1248.6,837.77 1249.6,837.77 1250.6,837.78 1251.6,837.78 1252.6,837.78 1253.6,837.78 1254.6,837.78 1255.6,837.78 1256.6,837.78 1257.6,837.78 1258.6,837.78 1259.6,837.78 1260.6,837.78 1261.6,837.78 1262.6,837.78 1263.6,837.78 1264.6,837.78 1265.6,837.78 1266.6,837.78 1267.6,837.78 1268.6,837.78 1269.6,837.78 1270.6,837.78 1271.6,837.78 1272.6,837.79 1273.6,837.79 1274.6,837.79 1275.6,837.79 1276.6,837.79 1277.6,837.79 1278.6,837.79 1279.6,837.79 1280.6,837.79 1281.6,837.79 1282.6,837.79 1283.6,837.79 1284.6,837.79 1285.6,837.79 1286.6,837.79 1287.6,837.79 1288.6,837.79 1289.6,837.79 1290.6,837.79 1291.6,837.79 1292.6,837.79 1293.6,837.79 1294.6,837.79 1295.6,837.79 1296.6,837.79 1297.6,837.79 1298.6,837.79 1299.6,837.79 1300.6,837.79 1301.6,837.79 1302.6,837.79 1303.6,837.79 1304.6,837.79 1305.6,837.8 1306.6,837.8 1307.6,837.8 1308.6,837.8 1309.6,837.8 1310.6,837.8 1311.6,837.8 1312.6,837.8 1313.6,837.8 1314.6,837.8 1315.6,837.8 1316.6,837.8 1317.6,837.8 1318.6,837.8 1319.6,837.8 1320.6,837.8 1321.6,837.8 1322.6,837.8 1323.6,837.8 1324.6,837.8 1325.6,837.8 1326.6,837.8 1327.6,837.8 1328.6,837.8 1329.6,837.8 1330.6,837.8 1331.6,837.8 1332.6,837.8 1333.6,837.8 1334.6,837.8 1335.6,837.8 1336.6,837.8 1337.6,837.8 1338.6,837.8 1339.6,837.8 1340.6,837.8 1341.6,837.8 1342.6,837.8 1343.6,837.8 1344.6,837.8 1345.6,837.8 1346.6,837.8 1347.6,837.8 1348.6,837.8 1349.6,837.8 1350.6,837.8 1351.6,837.8 1352.6,837.8 1353.6,837.8 1354.6,837.8" fill="none" stroke="#0000ff" stroke-width="6.0" stroke-linecap="round" stroke-linejoin="round" />
<polyline points="890.8,809.3 907,819.8 908,820.22 909,820.64 910,821.05 911,821.44 912,821.83 913,822.21 914,822.58 915,822.94 916,823.29 917,823.63 918,823.95 919,824.27 920,824.58 921,824.88 922,825.16 923,825.43 924,825.7 925,825.95 926,826.19 927,826.41 928,826.63 929,826.83 930,827.02 931,827.19 932,827.36 933,827.53 934,827.68 935,827.84 936,827.99 937,828.14 938,828.29 939,828.44 940,828.6 941,828.76 942,828.92 943,829.08 944,829.24 945,829.4 946,829.56 947,829.72 948,829.88 949,830.03 950,830.18 951,830.33 952,830.48 953,830.62 954,830.76 955,830.9 956,831.04 957,831.17 958,831.31 959,831.45 960,831.58 961,831.71 962,831.84 963,831.97 964,832.09 965,832.21 966,832.32 967,832.43 968,832.53 969,832.62 970,832.7 971,832.78 972,832.85 973,832.92 974,832.99 975,833.06 976,833.13 977,833.2 978,833.26 979,833.32 980,833.38 981,833.44 982,833.5 983,833.55 984,833.61 985,833.66 986,833.71 987,833.76 988,833.81 989,833.86 990,833.9 991,833.95 992,833.99 993,834.04 994,834.08 995,834.12 996,834.16 997,834.19 998,834.23 999,834.27 1000,834.3 1001,834.33 1002,834.37 1003,834.4 1004,834.43 1005,834.46 1006,834.5 1007,834.53 1008,834.56 1009,834.59 1010,834.62 1011,834.64 1012,834.67 1013,834.7 1014,834.73 1015,834.75 1016,834.78 1017,834.81 1018,834.83 1019,834.86 1020,834.88 1021,834.91 1022,834.93 1023,834.96 1024,834.98 1025,835 1026,835.02 1027,835.05 1028,835.07 1029,835.09 1030,835.11 1031,835.13 1032,835.16 1033,835.18 1034,835.2 1035,835.22 1036,835.24 1037,835.26 1038,835.28 1039,835.3 1040,835.32 1041,835.33 1042,835.35 1043,835.37 1044,835.39 1045,835.41 1046,835.43 1047,835.45 1048,835.46 1049,835.48 1050,835.5 1051,835.52 1052,835.54 1053,835.55 1054,835.57 1055,835.59 1056,835.61 1057,835.62 1058,835.64 1059,835.66 1060,835.68 1061,835.69 1062,835.71 1063,835.73 1064,835.74 1065,835.76 1066,835.78 1067,835.79 1068,835.81 1069,835.83 1070,835.84 1071,835.86 1072,835.88 1073,835.89 1074,835.91 1075,835.92 1076,835.94 1077,835.95 1078,835.97 1079,835.99 1080,836 1081,836.02 1082,836.03 1083,836.05 1084,836.06 1085,836.08 1086,836.09 1087,836.11 1088,836.12 1089,836.13 1090,836.15 1091,836.16 1092,836.18 1093,836.19 1094,836.2 1095,836.22 1096,836.23 1097,836.24 1098,836.26 1099,836.27 1100,836.28 1101,836.3 1102,836.31 1103,836.32 1104,836.33 1105,836.35 1106,836.36 1107,836.37 1108,836.38 1109,836.39 1110,836.41 1111,836.42 1112,836.43 1113,836.44 1114,836.45 1115,836.46 1116,836.47 1117,836.48 1118,836.49 1119,836.5 1120,836.51 1121,836.52 1122,836.53 1123,836.54 1124,836.55 1125,836.56 1126,836.57 1127,836.58 1128,836.58 1129,836.59 1130,836.6 1131,836.61 1132,836.62 1133,836.62 1134,836.63 1135,836.64 1136,836.65 1137,836.65 1138,836.66 1139,836.67 1140,836.68 1141,836.68 1142,836.69 1143,836.7 1144,836.7 1145,836.71 1146,836.72 1147,836.73 1148,836.73 1149,836.74 1150,836.75 1151,836.75 1152,836.76 1153,836.77 1154,836.77 1155,836.78 1156,836.78 1157,836.79 1158,836.8 1159,836.8 1160,836.81 1161,836.81 1162,836.82 1163,836.83 1164,836.83 1165,836.84 1166,836.84 1167,836.85 1168,836.85 1169,836.86 1170,836.86 1171,836.87 1172,836.88 1173,836.88 1174,836.89 1175,836.89 1176,836.9 1177,836.9 1178,836.91 1179,836.91 1180,836.92 1181,836.92 1182,836.92 1183,836.93 1184,836.93 1185,836.94 1186,836.94 1187,836.95 1188,836.95 1189,836.96 1190,836.96 1191,836.96 1192,836.97 1193,836.97 1194,836.98 1195,836.98 1196,836.98 1197,836.99 1198,836.99 1199,837 1200,837 1201,837 1202,837.01 1203,837.01 1204,837.01 1205,837.02 1206,837.02 1207,837.03 1208,837.03 1209,837.03 1210,837.04 1211,837.04 1212,837.04 1213,837.05 1214,837.05 1215,837.06 1216,837.06 1217,837.06 1218,837.07 1219,837.07 1220,837.07 1221,837.08 1222,837.08 1223,837.08 1224,837.09 1225,837.09 1226,837.1 1227,837.1 1228,837.1 1229,837.11 1230,837.11 1231,837.11 1232,837.12 1233,837.12 1234,837.12 1235,837.13 1236,837.13 1237,837.13 1238,837.14 1239,837.14 1240,837.15 1241,837.15 1242,837.15 1243,837.16 1244,837.16 1245,837.16 1246,837.17 1247,837.17 1248,837.17 1249,837.18 1250,837.18 1251,837.18 1252,837.19 1253,837.19 1254,837.19 1255,837.2 1256,837.2 1257,837.2 1258,837.21 1259,837.21 1260,837.21 1261,837.21 1262,837.22 1263,837.22 1264,837.22 1265,837.23 1266,837.23 1267,837.23 1268,837.24 1269,837.24 1270,837.24 1271,837.25 1272,837.25 1273,837.25 1274,837.25 1275,837.26 1276,837.26 1277,837.26 1278,837.27 1279,837.27 1280,837.27 1281,837.27 1282,837.28 1283,837.28 1284,837.28 1285,837.28 1286,837.29 1287,837.29 1288,837.29 1289,837.3 1290,837.3 1291,837.3 1292,837.3 1293,837.31 1294,837.31 1295,837.31 1296,837.31 1297,837.32 1298,837.32 1299,837.32 1300,837.32 1301,837.32 1302,837.33 1303,837.33 1304,837.33 1305,837.33 1306,837.34 1307,837.34 1308,837.34 1309,837.34 1310,837.34 1311,837.35 1312,837.35 1313,837.35 1314,837.35 1315,837.35 1316,837.35 1317,837.36 1318,837.36 1319,837.36 1320,837.36 1321,837.36 1322,837.37 1323,837.37 1324,837.37 1325,837.37 1326,837.37 1327,837.37 1328,837.37 1329,837.38 1330,837.38 1331,837.38 1332,837.38 1333,837.38 1334,837.38 1335,837.38 1336,837.38 1337,837.39 1338,837.39 1339,837.39 1340,837.39 1341,837.39 1342,837.39 1343,837.39 1344,837.39 1345,837.39 1346,837.39 1347,837.4 1348,837.4 1349,837.4 1350,837.4 1351,837.4 1352,837.4 1353,837.4 1354,837.4 1355,837.4" fill="none" stroke="#00ff00" stroke-width="8.8" stroke-linecap="round" stroke-linejoin="round" />
<polyline points="899.4,737.5 900.7,744.9 903.6,753.2 908.2,760.8 913.2,769.6 917,775.5 921.5,779.3 926.3,782.6 932.4,786.7 939,791.3 945.6,793.8 953.1,798.7 960.9,800.8 969.6,803.7 978.3,806 987,808.3 997.3,809.6 1007.6,811.5 1019,812.8 1030.9,814.2 1043.6,815.5 1056,816.8 1070.3,817.8 1084.4,818.8 1099.3,819.6 1115,820.1 1131.4,820.5 1147.8,820.7 1165.7,820.7 1184.4,820.7 1203.7,820.7 1223.9,820.7 1245.1,820.7 1267.3,820.7 1290.4,820.7 1314.5,820.7 1340.1,820.7 1366.5,820.7" fill="none" stroke="#ff8000" stroke-width="1" stroke-dasharray="1.5,2.5" opacity="0.8"/>
<g fill="#fff" stroke="#ff8000" stroke-width="2.8">
<path d="M899.4,728.7L908.2,737.5L899.4,746.3L890.6,737.5Z"/>
<path d="M900.7,736.1L909.5,744.9L900.7,753.7L891.9,744.9Z"/>
<path d="M903.6,744.4L912.4,753.2L903.6,762L894.8,753.2Z"/>
<path d="M908.2,752L917,760.8L908.2,769.6L899.4,760.8Z"/>
<path d="M913.2,760.8L922,769.6L913.2,778.4L904.4,769.6Z"/>
<path d="M917,766.7L925.8,775.5L917,784.3L908.2,775.5Z"/>
<path d="M921.5,770.5L930.3,779.3L921.5,788.1L912.7,779.3Z"/>
<path d="M926.3,773.8L935.1,782.6L926.3,791.4L917.5,782.6Z"/>
<path d="M932.4,777.9L941.2,786.7L932.4,795.5L923.6,786.7Z"/>
<path d="M939,782.5L947.8,791.3L939,800.1L930.2,791.3Z"/>
<path d="M945.6,785L954.4,793.8L945.6,802.6L936.8,793.8Z"/>
<path d="M953.1,789.9L961.9,798.7L953.1,807.5L944.3,798.7Z"/>
<path d="M960.9,792L969.7,800.8L960.9,809.6L952.1,800.8Z"/>
<path d="M969.6,794.9L978.4,803.7L969.6,812.5L960.8,803.7Z"/>
<path d="M978.3,797.2L987.1,806L978.3,814.8L969.5,806Z"/>
<path d="M987,799.5L995.8,808.3L987,817.1L978.2,808.3Z"/>
<path d="M997.3,800.8L1006.1,809.6L997.3,818.4L988.5,809.6Z"/>
<path d="M1007.6,802.7L1016.4,811.5L1007.6,820.3L998.8,811.5Z"/>
<path d="M1019,804L1027.8,812.8L1019,821.6L1010.2,812.8Z"/>
<path d="M1030.9,805.4L1039.7,814.2L1030.9,823L1022.1,814.2Z"/>
<path d="M1043.6,806.7L1052.4,815.5L1043.6,824.3L1034.8,815.5Z"/>
<path d="M1056,808L1064.8,816.8L1056,825.6L1047.2,816.8Z"/>
<path d="M1070.3,809L1079.1,817.8L1070.3,826.6L1061.5,817.8Z"/>
<path d="M1084.4,810L1093.2,818.8L1084.4,827.6L1075.6,818.8Z"/>
<path d="M1099.3,810.8L1108.1,819.6L1099.3,828.4L1090.5,819.6Z"/>
<path d="M1115,811.3L1123.8,820.1L1115,828.9L1106.2,820.1Z"/>
<path d="M1131.4,811.7L1140.2,820.5L1131.4,829.3L1122.6,820.5Z"/>
<path d="M1147.8,811.9L1156.6,820.7L1147.8,829.5L1139,820.7Z"/>
<path d="M1165.7,811.9L1174.5,820.7L1165.7,829.5L1156.9,820.7Z"/>
<path d="M1184.4,811.9L1193.2,820.7L1184.4,829.5L1175.6,820.7Z"/>
<path d="M1203.7,811.9L1212.5,820.7L1203.7,829.5L1194.9,820.7Z"/>
<path d="M1223.9,811.9L1232.7,820.7L1223.9,829.5L1215.1,820.7Z"/>
<path d="M1245.1,811.9L1253.9,820.7L1245.1,829.5L1236.3,820.7Z"/>
<path d="M1267.3,811.9L1276.1,820.7L1267.3,829.5L1258.5,820.7Z"/>
<path d="M1290.4,811.9L1299.2,820.7L1290.4,829.5L1281.6,820.7Z"/>
<path d="M1314.5,811.9L1323.3,820.7L1314.5,829.5L1305.7,820.7Z"/>
<path d="M1340.1,811.9L1348.9,820.7L1340.1,829.5L1331.3,820.7Z"/>
<path d="M1366.5,811.9L1375.3,820.7L1366.5,829.5L1357.7,820.7Z"/>
</g>
<path d="M894.41,275.99L894.59,280.11M895,299.1L895,363.2M895.77,382.17L896.93,396.23M898.92,415.12L900.38,426.38M902.6,445.25L905.4,471.55M910.94,508.62L913.46,527.78M916.59,546.51L917.71,551.99M921.89,570.52L923.21,575.78M934.02,611.74L936.48,621.96M983.37,691.65L982.23,694.15M986.72,707.21L988.78,708.29" fill="none" stroke="#2a8a2a" stroke-width="1.1" opacity="0.85"/>
<g fill="#fff" stroke="#008000" stroke-width="3">
<circle cx="894" cy="266.5" r="7.1"/>
<circle cx="895" cy="289.6" r="7.1"/>
<circle cx="895" cy="372.7" r="7.1"/>
<circle cx="897.7" cy="405.7" r="7.1"/>
<circle cx="901.6" cy="435.8" r="7.1"/>
<circle cx="906.4" cy="481" r="7.1"/>
<circle cx="909.7" cy="499.2" r="7.1"/>
<circle cx="914.7" cy="537.2" r="7.1"/>
<circle cx="919.6" cy="561.3" r="7.1"/>
<circle cx="925.5" cy="585" r="7.1"/>
<circle cx="931.8" cy="602.5" r="7.1"/>
<circle cx="938.7" cy="631.2" r="7.1"/>
<circle cx="945" cy="641.1" r="7.1"/>
<circle cx="953.3" cy="656" r="7.1"/>
<circle cx="960.9" cy="660" r="7.1"/>
<circle cx="969.1" cy="674.8" r="7.1"/>
<circle cx="978.3" cy="702.8" r="7.1"/>
<circle cx="987.3" cy="683" r="7.1"/>
<circle cx="997.2" cy="712.7" r="7.1"/>
<circle cx="1008.7" cy="705.5" r="7.1"/>
<circle cx="1020.3" cy="721" r="7.1"/>
</g>
<polyline points="893.9,440.63 894.26,444.86 894.61,449.04 894.97,453.18 895.33,457.27 895.69,461.31 896.05,465.31 896.41,469.27 896.77,473.19 897.14,477.06 897.51,480.89 897.87,484.67 898.24,488.42 898.61,492.13 898.98,495.79 899.36,499.42 899.73,503 900.1,506.55 900.48,510.06 900.86,513.53 901.24,516.96 901.62,520.36 902,523.72 902.38,527.04 902.77,530.33 903.15,533.58 903.54,536.79 903.93,539.97 904.32,543.12 904.71,546.23 905.1,549.31 905.49,552.35 905.89,555.37 906.28,558.34 906.68,561.29 907.08,564.21 907.48,567.09 907.88,569.94 908.29,572.76 908.69,575.56 909.1,578.32 909.5,581.05 909.91,583.75 910.32,586.42 910.73,589.07 911.15,591.68 911.56,594.27 911.98,596.83 912.39,599.36 912.81,601.86 913.23,604.34 913.65,606.79 914.07,609.22 914.5,611.61 914.92,613.99 915.35,616.33 915.78,618.65 916.21,620.95 916.64,623.22 917.08,625.47 917.51,627.69 917.95,629.89 918.38,632.07 918.82,634.22 919.26,636.35 919.71,638.46 920.15,640.54 920.59,642.61 921.04,644.64 921.49,646.66 921.94,648.66 922.39,650.63 922.84,652.59 923.3,654.52 923.75,656.43 924.21,658.32 924.67,660.2 925.13,662.05 925.59,663.88 926.06,665.69 926.52,667.49 926.99,669.26 927.46,671.01 927.93,672.75 928.4,674.47 928.87,676.17 929.35,677.85 929.82,679.51 930.3,681.16 930.78,682.79 931.26,684.4 931.75,685.99 932.23,687.57 932.72,689.13 933.21,690.67 933.7,692.2 934.19,693.71 934.68,695.2 935.18,696.68 935.67,698.14 936.17,699.59 936.67,701.02 937.17,702.44 937.68,703.84 938.18,705.23 938.69,706.6 939.2,707.96 939.71,709.3 940.22,710.63 940.73,711.95 941.25,713.25 941.77,714.54 942.29,715.81 942.81,717.07 943.33,718.32 943.85,719.55 944.38,720.77 944.91,721.98 945.44,723.17 945.97,724.36 946.5,725.53 947.04,726.69 947.58,727.83 948.12,728.96 948.66,730.09 949.2,731.2 949.74,732.29 950.29,733.38 950.84,734.45 951.39,735.52 951.94,736.57 952.5,737.61 953.05,738.64 953.61,739.66 954.17,740.67 954.73,741.67 955.3,742.66 955.86,743.63 956.43,744.6 957,745.56 957.57,746.51 958.14,747.44 958.72,748.37 959.3,749.29 959.88,750.19 960.46,751.09 961.04,751.98 961.63,752.86 962.21,753.73 962.8,754.59 963.39,755.45 963.99,756.29 964.58,757.12 965.18,757.95 965.78,758.77 966.38,759.57 966.99,760.37 967.59,761.17 968.2,761.95 968.81,762.73 969.42,763.49 970.03,764.25 970.65,765 971.27,765.75 971.89,766.48 972.51,767.21 973.14,767.93 973.76,768.64 974.39,769.35 975.02,770.05 975.66,770.74 976.29,771.42 976.93,772.1 977.57,772.77 978.21,773.43 978.86,774.09 979.5,774.74 980.15,775.38 980.8,776.01 981.46,776.64 982.11,777.26 982.77,777.88 983.43,778.49 984.09,779.09 984.76,779.69 985.42,780.28 986.09,780.87 986.76,781.44 987.44,782.02 988.11,782.58 988.79,783.14 989.47,783.7 990.15,784.25 990.84,784.79 991.53,785.33 992.22,785.86 992.91,786.39 993.6,786.91 994.3,787.43 995,787.94 995.7,788.44 996.41,788.94 997.11,789.44 997.82,789.93 998.53,790.41 999.25,790.89 999.96,791.37 1000.68,791.84 1001.4,792.3 1002.13,792.76 1002.85,793.22 1003.58,793.67 1004.31,794.11 1005.05,794.56 1005.78,794.99 1006.52,795.43 1007.26,795.85 1008.01,796.28 1008.75,796.7 1009.5,797.11 1010.25,797.52 1011.01,797.93 1011.76,798.33 1012.52,798.73 1013.29,799.12 1014.05,799.51 1014.82,799.9 1015.59,800.28 1016.36,800.66 1017.13,801.04 1017.91,801.41 1018.69,801.77 1019.48,802.14 1020.26,802.5 1021.05,802.85 1021.84,803.2 1022.64,803.55 1023.43,803.9 1024.23,804.24 1025.03,804.57 1025.84,804.91 1026.65,805.24 1027.46,805.57 1028.27,805.89 1029.09,806.21 1029.9,806.53 1030.73,806.84 1031.55,807.16 1032.38,807.46 1033.21,807.77 1034.04,808.07 1034.88,808.37 1035.71,808.66 1036.56,808.96 1037.4,809.25 1038.25,809.53 1039.1,809.82 1039.95,810.1 1040.81,810.38 1041.67,810.65 1042.53,810.92 1043.39,811.19 1044.26,811.46 1045.13,811.72 1046,811.99 1046.88,812.24 1047.76,812.5 1048.64,812.75 1049.53,813 1050.42,813.25 1051.31,813.5 1052.21,813.74 1053.1,813.98 1054,814.22 1054.91,814.46 1055.82,814.69 1056.73,814.92 1057.64,815.15 1058.56,815.38 1059.48,815.6 1060.4,815.83 1061.33,816.04 1062.25,816.26 1063.19,816.48 1064.12,816.69 1065.06,816.9 1066,817.11 1066.95,817.32 1067.9,817.52 1068.85,817.73 1069.8,817.93 1070.76,818.12 1071.72,818.32 1072.69,818.52 1073.66,818.71 1074.63,818.9 1075.6,819.09 1076.58,819.27 1077.56,819.46 1078.55,819.64 1079.54,819.82 1080.53,820 1081.53,820.18 1082.52,820.36 1083.53,820.53 1084.53,820.7 1085.54,820.87 1086.55,821.04 1087.57,821.21 1088.59,821.38 1089.61,821.54 1090.64,821.7 1091.67,821.86 1092.7,822.02 1093.74,822.18 1094.78,822.33 1095.82,822.49 1096.87,822.64 1097.92,822.79 1098.97,822.94 1100.03,823.09 1101.1,823.24 1102.16,823.38 1103.23,823.53 1104.3,823.67 1105.38,823.81 1106.46,823.95 1107.54,824.09 1108.63,824.22 1109.72,824.36 1110.82,824.49 1111.92,824.62 1113.02,824.76 1114.13,824.89 1115.24,825.01 1116.35,825.14 1117.47,825.27 1118.59,825.39 1119.72,825.52 1120.85,825.64 1121.98,825.76 1123.12,825.88 1124.26,826 1125.4,826.11 1126.55,826.23 1127.71,826.35 1128.86,826.46 1130.02,826.57 1131.19,826.69 1132.36,826.8 1133.53,826.91 1134.71,827.01 1135.89,827.12 1137.07,827.23 1138.26,827.33 1139.46,827.44 1140.65,827.54 1141.86,827.64 1143.06,827.74 1144.27,827.84 1145.48,827.94 1146.7,828.04 1147.92,828.14 1149.15,828.23 1150.38,828.33 1151.62,828.42 1152.86,828.52 1154.1,828.61 1155.35,828.7 1156.6,828.79 1157.85,828.88 1159.11,828.97 1160.38,829.06 1161.65,829.15 1162.92,829.23 1164.2,829.32 1165.48,829.4 1166.77,829.48 1168.06,829.57 1169.35,829.65 1170.65,829.73 1171.96,829.81 1173.27,829.89 1174.58,829.97 1175.9,830.05 1177.22,830.12 1178.55,830.2 1179.88,830.28 1181.21,830.35 1182.55,830.43 1183.9,830.5 1185.25,830.57 1186.6,830.64 1187.96,830.72 1189.33,830.79 1190.69,830.86 1192.07,830.93 1193.45,830.99 1194.83,831.06 1196.22,831.13 1197.61,831.2 1199,831.26 1200.41,831.33 1201.81,831.39 1203.22,831.46 1204.64,831.52 1206.06,831.58 1207.49,831.64 1208.92,831.71 1210.35,831.77 1211.79,831.83 1213.24,831.89 1214.69,831.95 1216.14,832 1217.6,832.06 1219.07,832.12 1220.54,832.18 1222.01,832.23 1223.49,832.29 1224.98,832.34 1226.47,832.4 1227.97,832.45 1229.47,832.51 1230.97,832.56 1232.48,832.61 1234,832.66 1235.52,832.71 1237.05,832.77 1238.58,832.82 1240.12,832.87 1241.66,832.92 1243.21,832.96 1244.76,833.01 1246.32,833.06 1247.88,833.11 1249.45,833.16 1251.03,833.2 1252.61,833.25 1254.19,833.29 1255.78,833.34 1257.38,833.38 1258.98,833.43 1260.59,833.47 1262.2,833.52 1263.82,833.56 1265.44,833.6 1267.07,833.64 1268.71,833.69 1270.35,833.73 1272,833.77 1273.65,833.81 1275.3,833.85 1276.97,833.89 1278.64,833.93 1280.31,833.97 1281.99,834.01 1283.68,834.05 1285.37,834.08 1287.07,834.12 1288.77,834.16 1290.48,834.2 1292.2,834.23 1293.92,834.27 1295.64,834.3 1297.38,834.34 1299.12,834.37 1300.86,834.41 1302.61,834.44 1304.37,834.48 1306.13,834.51 1307.9,834.54 1309.68,834.58 1311.46,834.61 1313.24,834.64 1315.04,834.68 1316.84,834.71 1318.64,834.74 1320.45,834.77 1322.27,834.8 1324.1,834.83 1325.93,834.86 1327.76,834.89 1329.61,834.92 1331.46,834.95 1333.31,834.98 1335.17,835.01 1337.04,835.04 1338.92,835.07 1340.8,835.09 1342.69,835.12 1344.58,835.15 1346.48,835.18 1348.39,835.2 1350.3,835.23 1352.22,835.26 1354.15,835.28 1356.08,835.31 1358.02,835.33 1359.97,835.36 1361.92,835.38" fill="none" stroke="#000" stroke-width="5.6" stroke-linecap="round" stroke-linejoin="round" />
</g>
<text x="160.5" y="73.2" font-size="43">(a)</text>
<text x="861.5" y="73.2" font-size="43">(b)</text>
<text transform="translate(619.5,73.2) scale(0.985,1.02)" font-size="43.5" text-anchor="end">6 T</text>
<text transform="translate(1316,73.2) scale(0.985,1.02)" font-size="43.5" text-anchor="end">9 T</text>
<line x1="350" y1="501.7" x2="389.4" y2="501.7" stroke="#3a9a3a" stroke-width="1.4" opacity="0.75"/>
<circle cx="369.6" cy="501.7" r="7.2" fill="#fff" stroke="#008000" stroke-width="3"/>
<line x1="350" y1="522.8" x2="389.4" y2="522.8" stroke="#ff9a3a" stroke-width="1.4" opacity="0.8"/>
<path d="M369.6,513.8L378.6,522.8L369.6,531.8L360.6,522.8Z" fill="#fff" stroke="#ff8000" stroke-width="2.9"/>
<line x1="350.5" y1="544.1" x2="388.7" y2="544.1" stroke="#ff0000" stroke-width="5.6" stroke-linecap="round"/>
<line x1="350.5" y1="565.3" x2="388.7" y2="565.3" stroke="#00ff00" stroke-width="5.6" stroke-linecap="round"/>
<line x1="350.5" y1="586.5" x2="388.7" y2="586.5" stroke="#0000ff" stroke-width="5.6" stroke-linecap="round"/>
<line x1="350.5" y1="611.5" x2="388.7" y2="611.5" stroke="#000" stroke-width="5.6" stroke-linecap="round"/>
<text x="393.7" y="507.9" font-size="17.1" fill="#0a0a0a">slow relaxation anlaysis(exp)</text>
<text x="393.7" y="528.7" font-size="17.1" fill="#0a0a0a">Fast relaxation analysis(exp)</text>
<text x="393.7" y="550.1" font-size="17.1" fill="#0a0a0a">Li</text>
<text x="393.7" y="571.1" font-size="17.1" fill="#0a0a0a">Ag</text>
<text x="393.7" y="591.9" font-size="17.1" fill="#0a0a0a">Ir, H<tspan font-size="12" dy="4.7">exp</tspan><tspan dy="-4.7"> only</tspan></text>
<text x="393.7" y="616.7" font-size="17.1" fill="#0a0a0a">Ir, with H<tspan font-size="12" dy="4.7">int</tspan><tspan dy="-4.7"> = 45 T</tspan></text>
<line x1="1069.4" y1="496.2" x2="1108.8" y2="496.2" stroke="#3a9a3a" stroke-width="1.4" opacity="0.75"/>
<circle cx="1089" cy="496.2" r="7.2" fill="#fff" stroke="#008000" stroke-width="3"/>
<line x1="1069.4" y1="517.3" x2="1108.8" y2="517.3" stroke="#ff9a3a" stroke-width="1.4" opacity="0.8"/>
<path d="M1089,508.3L1098,517.3L1089,526.3L1080,517.3Z" fill="#fff" stroke="#ff8000" stroke-width="2.9"/>
<line x1="1069.9" y1="538.6" x2="1108.1" y2="538.6" stroke="#ff0000" stroke-width="5.6" stroke-linecap="round"/>
<line x1="1069.9" y1="559.8" x2="1108.1" y2="559.8" stroke="#00ff00" stroke-width="5.6" stroke-linecap="round"/>
<line x1="1069.9" y1="581" x2="1108.1" y2="581" stroke="#0000ff" stroke-width="5.6" stroke-linecap="round"/>
<line x1="1069.9" y1="606" x2="1108.1" y2="606" stroke="#000" stroke-width="5.6" stroke-linecap="round"/>
<text x="1113.1" y="502.4" font-size="17.1" fill="#0a0a0a">slow relaxation anlaysis(exp)</text>
<text x="1113.1" y="523.2" font-size="17.1" fill="#0a0a0a">Fast relaxation analysis(exp)</text>
<text x="1113.1" y="544.6" font-size="17.1" fill="#0a0a0a">Li</text>
<text x="1113.1" y="565.6" font-size="17.1" fill="#0a0a0a">Ag</text>
<text x="1113.1" y="586.4" font-size="17.1" fill="#0a0a0a">Ir, H<tspan font-size="12" dy="4.7">exp</tspan><tspan dy="-4.7"> only</tspan></text>
<text x="1113.1" y="611.2" font-size="17.1" fill="#0a0a0a">Ir, with H<tspan font-size="12" dy="4.7">int</tspan><tspan dy="-4.7"> = 45 T</tspan></text>
<polyline points="395.4,86.3 395.4,331.4 621.6,331.4" fill="none" stroke="#2a2a2a" stroke-width="1"/>
<line x1="395.4" y1="331.4" x2="395.4" y2="346.9" stroke="#2a2a2a" stroke-width="1"/>
<line x1="423.67" y1="331.4" x2="423.67" y2="339.4" stroke="#2a2a2a" stroke-width="1"/>
<line x1="451.95" y1="331.4" x2="451.95" y2="346.9" stroke="#2a2a2a" stroke-width="1"/>
<line x1="480.23" y1="331.4" x2="480.23" y2="339.4" stroke="#2a2a2a" stroke-width="1"/>
<line x1="508.5" y1="331.4" x2="508.5" y2="346.9" stroke="#2a2a2a" stroke-width="1"/>
<line x1="536.77" y1="331.4" x2="536.77" y2="339.4" stroke="#2a2a2a" stroke-width="1"/>
<line x1="565.05" y1="331.4" x2="565.05" y2="346.9" stroke="#2a2a2a" stroke-width="1"/>
<line x1="593.33" y1="331.4" x2="593.33" y2="339.4" stroke="#2a2a2a" stroke-width="1"/>
<line x1="621.6" y1="331.4" x2="621.6" y2="346.9" stroke="#2a2a2a" stroke-width="1"/>
<text transform="translate(395.7,378.9) scale(0.98,1.045)" font-size="27" text-anchor="middle">0</text>
<text transform="translate(452.25,378.9) scale(0.98,1.045)" font-size="27" text-anchor="middle">20</text>
<text transform="translate(508.8,378.9) scale(0.98,1.045)" font-size="27" text-anchor="middle">40</text>
<text transform="translate(565.35,378.9) scale(0.98,1.045)" font-size="27" text-anchor="middle">60</text>
<text transform="translate(621.9,378.9) scale(0.98,1.045)" font-size="27" text-anchor="middle">80</text>
<line x1="387.4" y1="331.4" x2="395.4" y2="331.4" stroke="#2a2a2a" stroke-width="1"/>
<line x1="379.9" y1="290.55" x2="395.4" y2="290.55" stroke="#2a2a2a" stroke-width="1"/>
<line x1="387.4" y1="249.7" x2="395.4" y2="249.7" stroke="#2a2a2a" stroke-width="1"/>
<line x1="379.9" y1="208.85" x2="395.4" y2="208.85" stroke="#2a2a2a" stroke-width="1"/>
<line x1="387.4" y1="168" x2="395.4" y2="168" stroke="#2a2a2a" stroke-width="1"/>
<line x1="379.9" y1="127.15" x2="395.4" y2="127.15" stroke="#2a2a2a" stroke-width="1"/>
<line x1="387.4" y1="86.3" x2="395.4" y2="86.3" stroke="#2a2a2a" stroke-width="1"/>
<text transform="translate(368.4,299.45) scale(0.98,1.045)" font-size="27" text-anchor="end">0.080</text>
<text transform="translate(368.4,217.75) scale(0.98,1.045)" font-size="27" text-anchor="end">0.082</text>
<text transform="translate(368.4,136.05) scale(0.98,1.045)" font-size="27" text-anchor="end">0.084</text>
<text x="509.3" y="428.8" font-size="30.5" text-anchor="middle">t (sec)</text>
<text transform="translate(287.5,208.85) rotate(-90)" font-size="30.5" text-anchor="middle">T (K)</text>
<polyline points="398.4,310.79 399.4,310.78 400.4,310.92 401.4,311.19 402.4,311.26 403.4,311.2 404.4,311.05 405.4,311.16 406.4,311.45 407.4,311.65 408.4,311.54 409.4,311.38 410.4,311.59 411.4,311.78 412.4,311.7 413.4,311.5 414.4,311.29 415.4,311.32 416.4,311.18 417.4,311.14 418.4,311.19 419.4,311.19 420.4,311.19 421.4,311.2 422.4,311.33 423.4,311.28 424.4,311.27 425.4,311.14 426.4,311.33 427.4,311.25 428.4,311.35 429.4,311.35 430.4,311.42 431.4,311.27 432.4,311.17 433.4,311.02 434.4,310.9 435.4,310.84 437.2,300 438.8,250 439.6,190 440.3,140 441.34,116.72 441.38,117.38 441.43,117.73 441.48,118.56 441.52,119.11 441.56,119.57 441.61,120.21 441.65,120.75 441.69,121.9 441.74,122.55 441.78,123.22 441.82,123.47 441.86,123.99 441.9,124.52 441.94,125.12 441.98,125.84 442.02,126.53 442.06,127.28 442.1,127.82 442.13,128.45 442.17,129.11 442.21,129.79 442.25,130.35 442.28,130.78 442.32,131.38 442.35,132.23 442.39,132.83 442.43,133.35 442.46,133.87 442.5,134.41 442.53,135.01 442.56,135.6 442.6,136.35 442.63,136.99 442.67,137.57 442.7,137.83 442.73,138.52 442.76,138.96 442.8,139.68 442.83,140.21 442.86,140.97 442.89,141.7 442.93,142.16 442.96,142.69 442.99,143.33 443.02,144.18 443.05,144.85 443.09,145.47 443.12,146.04 443.15,146.55 443.18,147.03 443.21,147.58 443.24,148.26 443.27,148.93 443.31,149.39 443.34,149.95 443.37,150.32 443.4,151.06 443.43,151.69 443.46,152.37 443.5,152.91 443.53,153.36 443.56,154.19 443.59,154.58 443.62,155.18 443.66,155.77 443.69,156.69 443.72,157.16 443.75,157.64 443.79,158.15 443.82,158.9 443.85,159.71 443.89,160.15 443.92,160.84 443.95,161.17 443.99,162.03 444.02,162.59 444.06,163.25 444.09,163.54 444.13,164.3 444.16,165.01 444.2,165.85 444.23,166.39 444.27,166.95 444.31,167.41 444.34,167.81 444.38,168.29 444.42,169.08 444.46,169.61 444.5,170.23 444.53,170.66 444.57,171.42 444.61,172.14 444.65,172.64 444.69,173.04 444.74,173.58 444.78,174.42 444.82,175.26 444.86,175.88 444.9,176.33 444.95,176.88 444.99,177.43 445.04,178.14 445.08,178.63 445.13,179.26 445.17,179.76 445.22,180.5 445.27,181.1 445.32,181.97 445.37,182.66 445.41,183.38 445.46,183.52 445.52,183.94 445.57,184.32 445.62,185.18 445.67,185.58 445.72,186.36 445.78,187.01 445.83,187.71 445.89,188.09 445.94,188.51 446,189.24 446.06,190 446.12,190.89 446.18,191.46 446.24,192.08 446.3,192.49 446.36,193.29 446.42,193.89 446.49,194.61 446.55,194.93 446.61,195.43 446.68,195.82 446.75,196.68 446.81,197.37 446.88,198.02 446.95,198.43 447.02,199.02 447.09,199.58 447.17,200.14 447.24,200.74 447.31,201.66 447.39,202.34 447.47,202.84 447.54,203.08 447.62,203.58 447.7,204.29 447.78,205.1 447.86,205.84 447.94,206.43 448.03,206.97 448.11,207.59 448.2,208.01 448.28,208.56 448.37,209.17 448.46,209.86 448.55,210.46 448.64,210.98 448.73,211.64 448.83,212.38 448.92,213.04 449.02,213.67 449.12,214.27 449.22,214.99 449.32,215.79 449.42,216.11 449.52,216.74 449.63,217.14 449.74,217.97 449.85,218.58 449.96,219.35 450.08,220.05 450.2,220.59 450.32,221.25 450.44,221.72 450.57,222.3 450.7,222.82 450.83,223.4 450.97,224.23 451.11,224.85 451.25,225.72 451.4,226.1 451.55,226.56 451.7,226.95 451.86,227.62 452.02,228.18 452.19,228.79 452.36,229.3 452.54,230.11 452.72,230.58 452.9,231.27 453.09,231.61 453.28,232.16 453.48,232.55 453.68,233.06 453.89,233.74 454.1,234.47 454.32,235.16 454.55,235.77 454.78,236.38 455.01,236.93 455.25,237.44 455.5,237.78 455.75,238.13 456.01,238.72 456.28,239.1 456.55,239.85 456.83,240.29 457.11,241.1 457.4,241.54 457.7,241.97 458,242.39 458.31,242.84 458.62,243.4 458.94,243.86 459.27,244.39 459.6,244.87 459.93,245.27 460.28,245.73 460.63,246.01 460.98,246.54 461.34,246.9 461.71,247.68 462.08,248.28 462.45,248.65 462.84,248.99 463.23,249.29 463.62,249.82 464.02,250.28 464.42,250.67 464.83,251.02 465.25,251.35 465.67,251.8 466.09,252.39 466.52,252.69 466.96,253.16 467.4,253.61 467.84,254.01 468.29,254.26 468.75,254.55 469.21,254.98 469.68,255.59 470.15,255.97 470.62,256.25 471.1,256.31 471.59,256.6 472.08,257.24 472.57,257.6 473.07,257.92 473.58,258.03 474.09,258.33 474.6,258.83 475.12,259 475.64,259.34 476.16,259.4 476.69,259.77 477.23,259.83 477.76,260.24 478.3,260.47 478.84,260.93 479.39,261 479.93,261.27 480.48,261.66 481.04,262.17 481.59,262.64 482.15,263.01 482.7,263.23 483.26,263.39 483.83,263.59 484.39,263.74 484.95,263.84 485.52,263.94 486.08,264.12 486.65,264.26 487.22,264.34 487.78,264.61 488.35,265.1 488.92,265.43 489.49,265.67 490.06,265.76 490.64,266.1 491.21,266.12 491.78,266.36 492.36,266.54 492.93,266.83 493.51,267.12 494.08,267.23 494.66,267.44 495.24,267.48 495.81,267.44 496.39,267.61 496.97,267.93 497.55,268.16 498.13,268.56 498.71,268.53 499.29,268.87 499.88,268.84 500.46,268.7 501.04,268.59 501.63,268.65 502.21,268.81 502.8,268.77 503.38,268.94 503.97,269.2 504.55,269.37 505.14,269.47 505.73,269.83 506.31,270.15 506.9,270.51 507.49,270.72 508.08,270.89 508.67,270.81 509.26,270.64 509.85,270.75 510.44,271.07 511.03,271.34 511.62,271.51 512.21,271.49 512.8,271.61 513.4,271.61 513.99,271.73 514.58,271.68 515.17,271.67 515.77,271.76 516.36,271.88 516.95,272.05 517.55,272.26 518.14,272.43 518.74,272.78 519.33,272.77 519.92,272.68 520.52,272.43 521.11,272.33 521.71,272.29 522.3,272.33 522.9,272.26 523.49,272.07 524.09,272.09 524.69,272.15 525.28,272.65 525.88,272.55 526.47,272.72 527.07,272.99 527.66,273.22 528.26,273.62 528.86,273.88 529.45,274.27 530.05,274.49 530.64,274.44 531.24,274.6 531.84,274.61 532.43,274.75 533.03,274.8 533.63,275.2 534.22,275.19 534.82,275.12 535.42,275.05 536.01,275.12 536.61,275.32 537.21,275.34 537.81,275.58 538.4,275.57 539,275.62 539.6,275.33 540.2,275.39 540.79,275.63 541.39,275.89 541.99,275.99 542.59,275.79 543.18,275.99 543.78,276.16 544.38,276.23 544.98,276.32 545.58,276.4 546.17,276.67 546.77,276.61 547.37,276.83 547.97,276.87 548.57,277 549.17,276.84 549.77,276.85 550.36,277.02 550.96,277.11 551.56,277.31 552.16,277.36 552.76,277.59 553.36,277.63 553.96,277.63 554.56,277.38 555.15,277.39 555.75,277.55 556.35,277.82 556.95,277.91 557.55,277.85 558.15,277.86 558.75,277.78 559.35,278.03 559.95,278.15 560.55,278.21 561.15,277.96 561.75,277.95 562.35,278.16 562.95,278.36 563.55,278.32 564.15,278.34 564.75,278.45 565.35,278.64 565.95,278.59 566.55,278.58 567.15,278.55 567.75,278.56 568.35,278.44 568.95,278.64 569.55,278.7 570.15,279.09 570.75,278.84 571.35,279 571.95,279.01 572.55,279.28 573.15,279.37 573.75,279.45 574.35,279.65 574.96,279.66 575.56,279.63 576.16,279.73 576.76,279.97 577.36,280.04 577.96,280 578.56,279.95 579.16,280.1 579.76,280.04 580.36,279.94 580.96,279.9 581.57,279.94 582.17,280.07 582.77,280.12 583.37,280.33 583.97,280.33 584.57,280.45 585.17,280.28 585.78,280.49 586.38,280.3 586.98,280.4 587.58,280.46 588.18,280.63 588.78,280.72 589.38,280.66 589.99,280.8 590.59,280.63 591.19,280.42 591.79,280.22 592.39,279.9 592.99,279.6 593.6,279.71 594.2,280.17 594.8,280.59 595.4,281.04 596,281.2 596.61,281.35 597.21,281.58 597.81,281.83 598.41,282.22 599.01,282.49 599.62,282.75 600.22,282.95 600.82,283.18 601.42,283.74 602.02,284.32 602.63,284.63 603.23,284.78 603.83,284.6 604.43,284.67 605.03,284.59 605.64,284.63 606.24,284.61 606.84,284.37 607.44,284.38 608.05,284.22 608.65,283.96 609.25,283.78 609.85,283.58 610.45,283.27 611.06,282.76 611.66,282.42 612.26,282.36 612.86,282.29 613.47,282.12 614.07,282.03 614.67,282.06 615.27,282.13 615.88,282.18 616.48,282.36 617.08,282.42 617.68,282.45 618.29,282.47 618.89,282.66 619.49,282.86 620.09,282.83 620.69,282.98 621.3,283.03" fill="none" stroke="#000" stroke-width="5.9" stroke-linecap="round" stroke-linejoin="round" />
<polyline points="433.3,272.4 621.6,284" fill="none" stroke="#007800" stroke-width="4.1" stroke-linecap="round" stroke-linejoin="round" />
<path d="M566.1,288.4L571.4,309L560.8,309Z" fill="#000"/>
<line x1="566.1" y1="309" x2="566.1" y2="311.5" stroke="#000" stroke-width="1"/>
<polyline points="1150.2,91.2 1150.2,335.5 1323.2,335.5" fill="none" stroke="#2a2a2a" stroke-width="1"/>
<line x1="1150.2" y1="335.5" x2="1150.2" y2="351" stroke="#2a2a2a" stroke-width="1"/>
<line x1="1171.83" y1="335.5" x2="1171.83" y2="343.5" stroke="#2a2a2a" stroke-width="1"/>
<line x1="1193.45" y1="335.5" x2="1193.45" y2="351" stroke="#2a2a2a" stroke-width="1"/>
<line x1="1215.08" y1="335.5" x2="1215.08" y2="343.5" stroke="#2a2a2a" stroke-width="1"/>
<line x1="1236.7" y1="335.5" x2="1236.7" y2="351" stroke="#2a2a2a" stroke-width="1"/>
<line x1="1258.33" y1="335.5" x2="1258.33" y2="343.5" stroke="#2a2a2a" stroke-width="1"/>
<line x1="1279.95" y1="335.5" x2="1279.95" y2="351" stroke="#2a2a2a" stroke-width="1"/>
<line x1="1301.58" y1="335.5" x2="1301.58" y2="343.5" stroke="#2a2a2a" stroke-width="1"/>
<line x1="1323.2" y1="335.5" x2="1323.2" y2="351" stroke="#2a2a2a" stroke-width="1"/>
<text transform="translate(1150.5,383) scale(0.98,1.045)" font-size="27" text-anchor="middle">0</text>
<text transform="translate(1193.75,383) scale(0.98,1.045)" font-size="27" text-anchor="middle">20</text>
<text transform="translate(1237,383) scale(0.98,1.045)" font-size="27" text-anchor="middle">40</text>
<text transform="translate(1280.25,383) scale(0.98,1.045)" font-size="27" text-anchor="middle">60</text>
<text transform="translate(1323.5,383) scale(0.98,1.045)" font-size="27" text-anchor="middle">80</text>
<line x1="1142.2" y1="314.3" x2="1150.2" y2="314.3" stroke="#2a2a2a" stroke-width="1"/>
<line x1="1134.7" y1="285.5" x2="1150.2" y2="285.5" stroke="#2a2a2a" stroke-width="1"/>
<line x1="1142.2" y1="256.7" x2="1150.2" y2="256.7" stroke="#2a2a2a" stroke-width="1"/>
<line x1="1134.7" y1="227.9" x2="1150.2" y2="227.9" stroke="#2a2a2a" stroke-width="1"/>
<line x1="1142.2" y1="199.1" x2="1150.2" y2="199.1" stroke="#2a2a2a" stroke-width="1"/>
<line x1="1134.7" y1="170.3" x2="1150.2" y2="170.3" stroke="#2a2a2a" stroke-width="1"/>
<line x1="1142.2" y1="141.5" x2="1150.2" y2="141.5" stroke="#2a2a2a" stroke-width="1"/>
<line x1="1134.7" y1="112.7" x2="1150.2" y2="112.7" stroke="#2a2a2a" stroke-width="1"/>
<g transform="translate(1123.2,294.4) scale(0.98,1.045)">
<text x="-67.57" y="0" font-size="27" xml:space="preserve">0.  4</text>
<path d="M763,0L583,0L583,1147C540,1106 483,1065 413,1024C342,983 279,952 223,931L223,1105C324,1152 412,1210 487,1277C562,1344 615,1407 646,1466L763,1466Z" transform="translate(-45.05,0) scale(0.01318,-0.01285)"/>
<path d="M763,0L583,0L583,1147C540,1106 483,1065 413,1024C342,983 279,952 223,931L223,1105C324,1152 412,1210 487,1277C562,1344 615,1407 646,1466L763,1466Z" transform="translate(-30.03,0) scale(0.01318,-0.01285)"/>
</g>
<g transform="translate(1123.2,236.8) scale(0.98,1.045)">
<text x="-67.57" y="0" font-size="27" xml:space="preserve">0.  6</text>
<path d="M763,0L583,0L583,1147C540,1106 483,1065 413,1024C342,983 279,952 223,931L223,1105C324,1152 412,1210 487,1277C562,1344 615,1407 646,1466L763,1466Z" transform="translate(-45.05,0) scale(0.01318,-0.01285)"/>
<path d="M763,0L583,0L583,1147C540,1106 483,1065 413,1024C342,983 279,952 223,931L223,1105C324,1152 412,1210 487,1277C562,1344 615,1407 646,1466L763,1466Z" transform="translate(-30.03,0) scale(0.01318,-0.01285)"/>
</g>
<g transform="translate(1123.2,179.2) scale(0.98,1.045)">
<text x="-67.57" y="0" font-size="27" xml:space="preserve">0.  8</text>
<path d="M763,0L583,0L583,1147C540,1106 483,1065 413,1024C342,983 279,952 223,931L223,1105C324,1152 412,1210 487,1277C562,1344 615,1407 646,1466L763,1466Z" transform="translate(-45.05,0) scale(0.01318,-0.01285)"/>
<path d="M763,0L583,0L583,1147C540,1106 483,1065 413,1024C342,983 279,952 223,931L223,1105C324,1152 412,1210 487,1277C562,1344 615,1407 646,1466L763,1466Z" transform="translate(-30.03,0) scale(0.01318,-0.01285)"/>
</g>
<g transform="translate(1123.2,121.6) scale(0.98,1.045)">
<text x="-67.57" y="0" font-size="27" xml:space="preserve">0. 20</text>
<path d="M763,0L583,0L583,1147C540,1106 483,1065 413,1024C342,983 279,952 223,931L223,1105C324,1152 412,1210 487,1277C562,1344 615,1407 646,1466L763,1466Z" transform="translate(-45.05,0) scale(0.01318,-0.01285)"/>
</g>
<text x="1237.5" y="432.9" font-size="30.5" text-anchor="middle">t (sec)</text>
<text transform="translate(1042,213.35) rotate(-90)" font-size="30.5" text-anchor="middle">T (K)</text>
<polyline points="1153.2,312.14 1154.2,312.08 1155.2,312.31 1156.2,312.49 1157.2,312.68 1158.2,312.72 1159.2,312.69 1160.2,312.76 1161.2,312.68 1162.2,312.5 1163.2,312.72 1164.2,312.83 1165.2,313.29 1166.2,313.2 1167.2,313.16 1168.2,312.75 1169.2,312.71 1170.2,312.54 1171.2,312.69 1172.2,312.46 1173.2,312.5 1174.2,312.15 1175.2,312.4 1176.2,312.34 1177.2,312.43 1178.2,312.26 1179.2,312.17 1180.2,312.27 1181.2,312.19 1182,300 1184.29,114.03 1184.28,114.76 1184.27,115.42 1184.26,116.09 1184.25,116.76 1184.25,117.6 1184.24,118.52 1184.24,119.31 1184.23,119.97 1184.23,120.62 1184.23,121.44 1184.23,122.24 1184.23,122.83 1184.23,123.52 1184.24,124.3 1184.24,124.99 1184.25,125.66 1184.25,126.12 1184.26,126.85 1184.27,127.43 1184.28,128.31 1184.29,129.02 1184.3,129.95 1184.31,130.7 1184.32,131.51 1184.34,131.94 1184.35,132.58 1184.37,133.29 1184.38,134.26 1184.4,134.86 1184.42,135.52 1184.44,136.11 1184.46,136.88 1184.48,137.73 1184.5,138.44 1184.52,139.21 1184.54,139.89 1184.57,140.6 1184.59,141.28 1184.62,141.89 1184.64,142.65 1184.67,143.22 1184.7,143.9 1184.72,144.72 1184.75,145.37 1184.78,146.13 1184.81,146.69 1184.84,147.46 1184.87,148.26 1184.9,149 1184.93,149.63 1184.96,150.11 1185,150.77 1185.03,151.55 1185.06,152.29 1185.1,152.9 1185.13,153.66 1185.17,154.41 1185.2,155.02 1185.24,155.65 1185.27,156.13 1185.31,156.89 1185.35,157.42 1185.39,158.08 1185.42,158.72 1185.46,159.6 1185.5,160.44 1185.54,161 1185.58,161.5 1185.62,162.12 1185.65,162.73 1185.69,163.43 1185.73,164.03 1185.77,165.02 1185.81,165.81 1185.85,166.46 1185.9,166.96 1185.94,167.54 1185.98,168.39 1186.02,169.06 1186.06,169.72 1186.1,170.28 1186.14,170.98 1186.18,171.66 1186.22,172.19 1186.27,172.87 1186.31,173.52 1186.35,174.42 1186.39,175.16 1186.43,175.87 1186.47,176.5 1186.51,177.07 1186.56,177.85 1186.6,178.46 1186.64,179.23 1186.68,179.67 1186.72,180.38 1186.76,180.83 1186.8,181.44 1186.84,182.05 1186.88,182.81 1186.92,183.71 1186.96,184.65 1187,185.34 1187.04,185.94 1187.08,186.42 1187.12,187.24 1187.16,187.97 1187.19,188.62 1187.23,189.33 1187.27,190.08 1187.31,190.69 1187.34,191.3 1187.38,191.95 1187.42,192.64 1187.45,193.37 1187.49,193.98 1187.52,194.88 1187.56,195.57 1187.59,196.36 1187.63,196.91 1187.66,197.58 1187.69,198.07 1187.72,198.72 1187.76,199.48 1187.79,200.17 1187.82,201.08 1187.85,201.58 1187.88,202.58 1187.9,203.13 1187.93,204.1 1187.96,204.75 1187.99,205.4 1188.02,206.17 1188.04,207.02 1188.07,207.89 1188.1,208.47 1188.13,209.03 1188.16,209.66 1188.19,210.53 1188.22,211.22 1188.25,212.04 1188.28,212.58 1188.31,213.3 1188.35,213.9 1188.38,214.84 1188.42,215.61 1188.46,216.56 1188.5,217.17 1188.55,217.84 1188.59,218.44 1188.64,219.11 1188.69,219.91 1188.74,220.63 1188.8,221.38 1188.86,221.97 1188.92,222.65 1188.98,223.57 1189.05,224.36 1189.12,225.06 1189.2,225.65 1189.27,226.57 1189.35,227.25 1189.44,227.91 1189.53,228.42 1189.62,229.1 1189.72,229.91 1189.82,230.68 1189.93,231.56 1190.04,232.12 1190.16,232.87 1190.28,233.51 1190.41,234.27 1190.54,234.8 1190.68,235.43 1190.82,236.27 1190.97,237.01 1191.12,237.85 1191.28,238.39 1191.45,239.08 1191.62,239.67 1191.8,240.41 1191.98,241.09 1192.18,241.79 1192.37,242.39 1192.58,243.2 1192.79,243.93 1193.01,244.62 1193.24,245.09 1193.47,245.53 1193.71,246.22 1193.96,247.01 1194.22,247.76 1194.48,248.34 1194.75,248.95 1195.03,249.66 1195.32,250.31 1195.62,250.79 1195.93,251.46 1196.24,251.84 1196.56,252.56 1196.89,253.05 1197.23,253.84 1197.58,254.52 1197.93,255.19 1198.3,255.56 1198.67,255.76 1199.05,256.25 1199.43,256.81 1199.83,257.52 1200.23,258.06 1200.64,258.53 1201.05,258.85 1201.48,259.32 1201.91,260 1202.34,260.7 1202.79,261.18 1203.24,261.59 1203.7,261.95 1204.17,262.42 1204.64,262.89 1205.12,263.35 1205.61,263.88 1206.1,264.43 1206.6,265.09 1207.11,265.39 1207.62,265.77 1208.14,266.07 1208.67,266.51 1209.2,267.01 1209.74,267.45 1210.28,267.98 1210.83,268.4 1211.39,269.07 1211.95,269.29 1212.52,269.72 1213.09,269.88 1213.67,270.39 1214.26,270.51 1214.85,270.83 1215.44,271.25 1216.04,271.73 1216.64,272.12 1217.25,272.34 1217.86,272.79 1218.48,273.1 1219.1,273.22 1219.72,273.34 1220.35,273.45 1220.98,273.64 1221.61,273.95 1222.24,274.57 1222.88,275.18 1223.52,275.39 1224.16,275.44 1224.8,275.82 1225.44,276.23 1226.08,276.59 1226.73,276.73 1227.38,276.98 1228.02,277.31 1228.67,277.62 1229.32,277.89 1229.98,277.95 1230.63,278.18 1231.28,278.33 1231.94,278.78 1232.59,278.83 1233.25,279.12 1233.91,279.23 1234.57,279.45 1235.23,279.86 1235.89,280.22 1236.56,280.52 1237.22,280.63 1237.89,280.73 1238.55,280.72 1239.22,280.87 1239.89,281.03 1240.56,281.49 1241.23,281.55 1241.9,281.72 1242.57,281.89 1243.24,282.3 1243.92,282.54 1244.59,282.74 1245.27,282.95 1245.95,283.03 1246.62,283.17 1247.3,283 1247.98,283.38 1248.66,283.68 1249.34,284.12 1250.02,284.19 1250.7,284.26 1251.39,284.35 1252.07,284.41 1252.75,284.53 1253.44,284.66 1254.12,284.99 1254.81,285.21 1255.5,285.34 1256.18,285.27 1256.87,285.29 1257.56,285.59 1258.25,285.83 1258.94,286.04 1259.63,285.97 1260.32,285.94 1261.01,286.05 1261.7,286.3 1262.39,286.49 1263.08,286.6 1263.78,286.61 1264.47,286.78 1265.16,286.76 1265.86,286.87 1266.55,286.89 1267.25,287.25 1267.94,287.3 1268.64,287.56 1269.33,287.73 1270.03,287.88 1270.72,287.87 1271.42,287.83 1272.11,287.97 1272.81,288.03 1273.51,288.15 1274.2,288.45 1274.9,288.62 1275.6,288.65 1276.3,288.44 1276.99,288.59 1277.69,288.58 1278.39,288.66 1279.09,288.85 1279.78,288.97 1280.48,289.28 1281.18,289.39 1281.88,289.59 1282.58,289.63 1283.27,289.75 1283.97,289.79 1284.67,289.76 1285.37,289.51 1286.06,289.62 1286.76,289.9 1287.46,290.22 1288.16,290.2 1288.85,290.04 1289.55,289.97 1290.24,290.18 1290.94,290.32 1291.64,290.47 1292.33,290.54 1293.03,290.61 1293.72,290.66 1294.42,290.73 1295.11,290.82 1295.81,290.95 1296.5,291.19 1297.19,291.34 1297.89,291.37 1298.58,291.08 1299.27,291.14 1299.96,291.01 1300.66,291.11 1301.35,291.23 1302.04,291.57 1302.73,291.77 1303.42,291.59 1304.11,291.56 1304.79,291.58 1305.48,291.89 1306.17,292.22 1306.86,292.39 1307.54,292.32 1308.23,292.05 1308.91,292.1 1309.6,292.24 1310.28,292.32 1310.96,292.41 1311.64,292.39 1312.33,292.7 1313.01,292.87 1313.69,293.17 1314.37,293.09 1315.04,293.12 1315.72,293.08 1316.4,293.17 1317.07,293.17 1317.75,293.13 1318.42,293.11 1319.1,293.31 1319.77,293.5 1320.44,293.76 1321.11,293.87 1321.78,293.8 1322.45,293.79 1323.12,293.78" fill="none" stroke="#000" stroke-width="5.9" stroke-linecap="round" stroke-linejoin="round" />
<polyline points="1178.7,282.1 1323.3,293.7" fill="none" stroke="#007800" stroke-width="4.1" stroke-linecap="round" stroke-linejoin="round" />
<path d="M1280.3,293.5L1285.6,315.3L1275,315.3Z" fill="#000"/>
<line x1="1280.3" y1="315.3" x2="1280.3" y2="317.8" stroke="#000" stroke-width="1"/>
</svg></body></html>
